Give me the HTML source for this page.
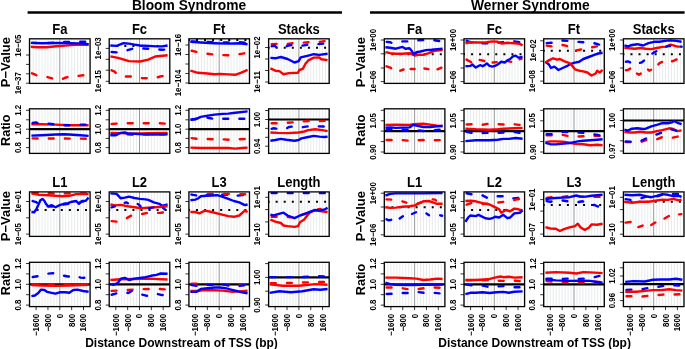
<!DOCTYPE html><html><head><meta charset="utf-8"><style>html,body{margin:0;padding:0;background:#fff;overflow:hidden}svg{display:block;will-change:transform}text{font-family:"Liberation Sans",sans-serif}</style></head><body><svg width="685" height="349" viewBox="0 0 685 349" font-family="Liberation Sans, sans-serif">
<rect width="685" height="349" fill="#fff"/>
<text transform="translate(189.0 9.6) scale(1 1.08)" x="0" y="0" font-size="13.8" font-weight="bold" text-anchor="middle">Bloom Syndrome</text>
<text transform="translate(530.3 9.6) scale(1 1.08)" x="0" y="0" font-size="13.8" font-weight="bold" text-anchor="middle">Werner Syndrome</text>
<line x1="27.6" y1="12.5" x2="342.0" y2="12.5" stroke="#000" stroke-width="2.4"/>
<line x1="370.0" y1="12.5" x2="684.6" y2="12.5" stroke="#000" stroke-width="2.4"/>
<text x="9.90" y="62.10" font-size="13" font-weight="bold" text-anchor="middle" fill="#000" transform="rotate(-90 9.90 62.10)">P−Value</text>
<text x="9.90" y="130.20" font-size="12.6" font-weight="bold" text-anchor="middle" fill="#000" transform="rotate(-90 9.90 130.20)">Ratio</text>
<text x="9.90" y="216.15" font-size="13" font-weight="bold" text-anchor="middle" fill="#000" transform="rotate(-90 9.90 216.15)">P−Value</text>
<text x="9.90" y="279.45" font-size="12.6" font-weight="bold" text-anchor="middle" fill="#000" transform="rotate(-90 9.90 279.45)">Ratio</text>
<text x="365.30" y="62.10" font-size="13" font-weight="bold" text-anchor="middle" fill="#000" transform="rotate(-90 365.30 62.10)">P−Value</text>
<text x="365.30" y="130.20" font-size="12.6" font-weight="bold" text-anchor="middle" fill="#000" transform="rotate(-90 365.30 130.20)">Ratio</text>
<text x="365.30" y="216.15" font-size="13" font-weight="bold" text-anchor="middle" fill="#000" transform="rotate(-90 365.30 216.15)">P−Value</text>
<text x="365.30" y="279.45" font-size="12.6" font-weight="bold" text-anchor="middle" fill="#000" transform="rotate(-90 365.30 279.45)">Ratio</text>
<text x="181.50" y="346.50" font-size="12" font-weight="bold" text-anchor="middle" fill="#000">Distance Downstream of TSS (bp)</text>
<text x="534.60" y="346.50" font-size="12" font-weight="bold" text-anchor="middle" fill="#000">Distance Downstream of TSS (bp)</text>
<clipPath id="clip_BFa"><rect x="29.5" y="38.8" width="60.6" height="44.60000000000001"/></clipPath>
<path d="M30.18 38.8V83.4M33.14 38.8V83.4M36.10 38.8V83.4M39.07 38.8V83.4M42.03 38.8V83.4M44.99 38.8V83.4M47.95 38.8V83.4M50.91 38.8V83.4M53.88 38.8V83.4M56.84 38.8V83.4M62.76 38.8V83.4M65.72 38.8V83.4M68.69 38.8V83.4M71.65 38.8V83.4M74.61 38.8V83.4M77.57 38.8V83.4M80.53 38.8V83.4M83.50 38.8V83.4M86.46 38.8V83.4M89.42 38.8V83.4" stroke="#e6e9ea" stroke-width="0.9" fill="none"/>
<line x1="59.80" y1="38.8" x2="59.80" y2="83.4" stroke="#8c8c8c" stroke-width="0.9"/>
<g clip-path="url(#clip_BFa)" fill="none" stroke-width="2.4" stroke-linejoin="round">
<path d="M30.8 46.8 L37.3 47.3 L46.7 47.3 L56.0 46.3 L65.4 45.6 L74.7 44.9 L84.1 44.9 L88.7 44.9" stroke="#ff0000"/>
<path d="M30.8 42.8 L42.0 43.1 L51.4 42.9 L62.6 41.9 L69.1 41.9 L78.5 41.7 L85.9 41.7 L88.7 42.4" stroke="#0000ff" stroke-dasharray="4.9 11.16" stroke-dashoffset="-1.3" stroke-linecap="round"/>
<path d="M30.8 42.9 L42.0 43.2 L56.0 43.0 L60.7 43.0 L70.1 43.2 L79.4 43.4 L88.7 44.1" stroke="#0000ff"/>
<path d="M30.8 72.8 L34.2 74.2 L37.6 75.8 L45.9 76.6 L52.8 78.6 L56.9 79.9 L61.0 79.7 L64.5 78.0 L67.9 76.9 L76.2 76.2 L83.1 75.3 L88.6 75.0" stroke="#ff0000" stroke-dasharray="4.9 11.16" stroke-dashoffset="-1.3" stroke-linecap="round"/>
</g>
<rect x="29.5" y="38.8" width="60.6" height="44.60" fill="none" stroke="#000" stroke-width="1.3"/>
<path d="M26.00 55H29.5M26.00 64.4H29.5M26.00 73.8H29.5M26.00 83.2H29.5" stroke="#000" stroke-width="0.8"/>
<text x="21.30" y="45.60" dy="0" font-size="8.8" font-weight="bold" text-anchor="middle" textLength="22.19" lengthAdjust="spacingAndGlyphs" transform="rotate(-90 21.30 45.60)">1e−05</text>
<text x="21.30" y="83.20" dy="0" font-size="8.8" font-weight="bold" text-anchor="middle" textLength="22.19" lengthAdjust="spacingAndGlyphs" transform="rotate(-90 21.30 83.20)">1e−37</text>
<text transform="translate(59.80 33.7) scale(1 1.08)" font-size="13" font-weight="bold" text-anchor="middle">Fa</text>
<clipPath id="clip_BFc"><rect x="109.2" y="38.8" width="60.6" height="44.60000000000001"/></clipPath>
<path d="M109.88 38.8V83.4M112.84 38.8V83.4M115.80 38.8V83.4M118.77 38.8V83.4M121.73 38.8V83.4M124.69 38.8V83.4M127.65 38.8V83.4M130.61 38.8V83.4M133.58 38.8V83.4M136.54 38.8V83.4M142.46 38.8V83.4M145.42 38.8V83.4M148.39 38.8V83.4M151.35 38.8V83.4M154.31 38.8V83.4M157.27 38.8V83.4M160.23 38.8V83.4M163.20 38.8V83.4M166.16 38.8V83.4M169.12 38.8V83.4" stroke="#e6e9ea" stroke-width="0.9" fill="none"/>
<line x1="139.50" y1="38.8" x2="139.50" y2="83.4" stroke="#8c8c8c" stroke-width="0.9"/>
<g clip-path="url(#clip_BFc)" fill="none" stroke-width="2.4" stroke-linejoin="round">
<path d="M109.2 45.9 L169.8 45.9" stroke="#000" stroke-dasharray="2 6.07" stroke-dashoffset="1" stroke-width="2"/>
<path d="M110.4 45.5 L116.6 45.9 L123.5 43.2 L129.0 43.6 L134.5 44.6 L140.0 45.5 L148.3 45.9 L156.5 46.4 L162.1 46.4 L167.6 45.5" stroke="#0000ff"/>
<path d="M110.4 51.9 L117.3 52.4 L124.9 51.0 L132.5 48.7 L141.4 48.4 L148.3 48.7 L156.5 49.1 L162.1 49.8 L167.6 49.4" stroke="#0000ff" stroke-dasharray="4.9 11.16" stroke-dashoffset="-1.3" stroke-linecap="round"/>
<path d="M110.4 56.3 L118.0 57.9 L129.0 61.1 L140.0 61.5 L148.3 59.7 L155.2 56.5 L167.6 55.3" stroke="#ff0000"/>
<path d="M110.4 69.8 L114.6 71.7 L117.3 74.4 L124.2 76.5 L131.8 76.5 L140.0 78.0 L146.9 78.3 L155.2 78.0 L161.4 76.2 L167.6 75.5" stroke="#ff0000" stroke-dasharray="4.9 11.16" stroke-dashoffset="-1.3" stroke-linecap="round"/>
</g>
<rect x="109.2" y="38.8" width="60.6" height="44.60" fill="none" stroke="#000" stroke-width="1.3"/>
<path d="M105.70 48.4H109.2M105.70 59.3H109.2M105.70 70.2H109.2M105.70 81.3H109.2" stroke="#000" stroke-width="0.8"/>
<text x="101.00" y="48.40" dy="0" font-size="8.8" font-weight="bold" text-anchor="middle" textLength="22.19" lengthAdjust="spacingAndGlyphs" transform="rotate(-90 101.00 48.40)">1e−03</text>
<text x="101.00" y="81.30" dy="0" font-size="8.8" font-weight="bold" text-anchor="middle" textLength="22.19" lengthAdjust="spacingAndGlyphs" transform="rotate(-90 101.00 81.30)">1e−15</text>
<text transform="translate(139.50 33.7) scale(1 1.08)" font-size="13" font-weight="bold" text-anchor="middle">Fc</text>
<clipPath id="clip_BFt"><rect x="188.9" y="38.8" width="60.6" height="44.60000000000001"/></clipPath>
<path d="M189.58 38.8V83.4M192.54 38.8V83.4M195.50 38.8V83.4M198.47 38.8V83.4M201.43 38.8V83.4M204.39 38.8V83.4M207.35 38.8V83.4M210.31 38.8V83.4M213.28 38.8V83.4M216.24 38.8V83.4M222.16 38.8V83.4M225.12 38.8V83.4M228.09 38.8V83.4M231.05 38.8V83.4M234.01 38.8V83.4M236.97 38.8V83.4M239.93 38.8V83.4M242.90 38.8V83.4M245.86 38.8V83.4M248.82 38.8V83.4" stroke="#e6e9ea" stroke-width="0.9" fill="none"/>
<line x1="219.20" y1="38.8" x2="219.20" y2="83.4" stroke="#8c8c8c" stroke-width="0.9"/>
<g clip-path="url(#clip_BFt)" fill="none" stroke-width="2.4" stroke-linejoin="round">
<path d="M188.9 40.0 L249.5 40.0" stroke="#000" stroke-dasharray="2 6.07" stroke-dashoffset="1" stroke-width="2"/>
<path d="M190.4 41.4 L200.8 41.7 L214.5 42.2 L228.3 42.5 L239.3 42.2 L247.6 43.1" stroke="#0000ff" stroke-dasharray="4.9 11.16" stroke-dashoffset="-1.3" stroke-linecap="round"/>
<path d="M190.4 41.8 L200.8 42.5 L214.5 43.2 L228.3 43.6 L239.3 43.2 L247.6 44.2" stroke="#0000ff"/>
<path d="M190.4 50.5 L197.3 52.1 L202.1 53.0 L213.1 54.5 L218.7 55.0 L229.0 55.3 L233.8 54.9 L238.6 54.2 L247.6 52.8" stroke="#ff0000" stroke-dasharray="4.9 11.16" stroke-dashoffset="-1.3" stroke-linecap="round"/>
<path d="M190.4 70.7 L198.0 72.8 L207.6 73.5 L214.5 74.2 L220.0 73.9 L228.3 74.4 L235.2 74.8 L240.7 72.8 L247.6 69.8" stroke="#ff0000"/>
</g>
<rect x="188.9" y="38.8" width="60.6" height="44.60" fill="none" stroke="#000" stroke-width="1.3"/>
<path d="M185.40 45H188.9M185.40 54.5H188.9M185.40 64H188.9M185.40 73.5H188.9M185.40 83H188.9" stroke="#000" stroke-width="0.8"/>
<text x="180.70" y="45.00" dy="0" font-size="8.8" font-weight="bold" text-anchor="middle" textLength="22.19" lengthAdjust="spacingAndGlyphs" transform="rotate(-90 180.70 45.00)">1e−16</text>
<text x="180.70" y="83.00" dy="0" font-size="8.8" font-weight="bold" text-anchor="middle" textLength="26.58" lengthAdjust="spacingAndGlyphs" transform="rotate(-90 180.70 83.00)">1e−104</text>
<text transform="translate(219.20 33.7) scale(1 1.08)" font-size="13" font-weight="bold" text-anchor="middle">Ft</text>
<clipPath id="clip_BSt"><rect x="268.6" y="38.8" width="60.6" height="44.60000000000001"/></clipPath>
<path d="M269.28 38.8V83.4M272.24 38.8V83.4M275.20 38.8V83.4M278.17 38.8V83.4M281.13 38.8V83.4M284.09 38.8V83.4M287.05 38.8V83.4M290.01 38.8V83.4M292.98 38.8V83.4M295.94 38.8V83.4M301.86 38.8V83.4M304.82 38.8V83.4M307.79 38.8V83.4M310.75 38.8V83.4M313.71 38.8V83.4M316.67 38.8V83.4M319.63 38.8V83.4M322.60 38.8V83.4M325.56 38.8V83.4M328.52 38.8V83.4" stroke="#e6e9ea" stroke-width="0.9" fill="none"/>
<line x1="298.90" y1="38.8" x2="298.90" y2="83.4" stroke="#8c8c8c" stroke-width="0.9"/>
<g clip-path="url(#clip_BSt)" fill="none" stroke-width="2.4" stroke-linejoin="round">
<path d="M268.6 47.7 L329.2 47.7" stroke="#000" stroke-dasharray="2 6.07" stroke-dashoffset="1" stroke-width="2"/>
<path d="M270.4 44.2 L276.6 43.9 L283.5 44.6 L292.5 43.2 L301.4 42.8 L308.3 42.2 L317.2 42.2 L324.8 41.1 L327.6 40.9" stroke="#ff0000" stroke-dasharray="4.9 11.16" stroke-dashoffset="-1.3" stroke-linecap="round"/>
<path d="M270.4 46.4 L274.6 45.7 L277.3 47.7 L284.2 47.7 L287.6 45.7 L292.5 45.0 L300.7 45.9 L308.3 44.6 L316.5 44.3 L323.4 43.6 L327.6 43.2" stroke="#0000ff" stroke-dasharray="4.9 11.16" stroke-dashoffset="-1.3" stroke-linecap="round"/>
<path d="M270.4 57.9 L275.3 58.3 L280.8 57.0 L287.6 59.0 L294.5 62.5 L298.7 61.1 L300.7 57.4 L308.3 55.6 L313.8 54.2 L319.3 54.9 L327.6 53.8" stroke="#0000ff"/>
<path d="M270.4 68.4 L275.3 70.7 L279.4 71.1 L283.5 74.2 L289.0 73.1 L298.0 72.8 L299.3 70.0 L302.8 68.9 L305.5 63.8 L308.3 60.4 L313.8 57.6 L319.3 57.4 L321.4 59.3 L327.6 60.1" stroke="#ff0000"/>
</g>
<rect x="268.6" y="38.8" width="60.6" height="44.60" fill="none" stroke="#000" stroke-width="1.3"/>
<path d="M265.10 47.5H268.6M265.10 59H268.6M265.10 70.5H268.6M265.10 82H268.6" stroke="#000" stroke-width="0.8"/>
<text x="260.40" y="47.50" dy="0" font-size="8.8" font-weight="bold" text-anchor="middle" textLength="22.19" lengthAdjust="spacingAndGlyphs" transform="rotate(-90 260.40 47.50)">1e−02</text>
<text x="260.40" y="82.00" dy="0" font-size="8.8" font-weight="bold" text-anchor="middle" textLength="21.60" lengthAdjust="spacingAndGlyphs" transform="rotate(-90 260.40 82.00)">1e−11</text>
<text transform="translate(298.90 33.7) scale(1 1.08)" font-size="13" font-weight="bold" text-anchor="middle">Stacks</text>
<clipPath id="clip_WFa"><rect x="384.3" y="38.8" width="60.6" height="44.60000000000001"/></clipPath>
<path d="M384.98 38.8V83.4M387.94 38.8V83.4M390.90 38.8V83.4M393.87 38.8V83.4M396.83 38.8V83.4M399.79 38.8V83.4M402.75 38.8V83.4M405.71 38.8V83.4M408.68 38.8V83.4M411.64 38.8V83.4M417.56 38.8V83.4M420.52 38.8V83.4M423.49 38.8V83.4M426.45 38.8V83.4M429.41 38.8V83.4M432.37 38.8V83.4M435.33 38.8V83.4M438.30 38.8V83.4M441.26 38.8V83.4M444.22 38.8V83.4" stroke="#e6e9ea" stroke-width="0.9" fill="none"/>
<line x1="414.60" y1="38.8" x2="414.60" y2="83.4" stroke="#8c8c8c" stroke-width="0.9"/>
<g clip-path="url(#clip_WFa)" fill="none" stroke-width="2.4" stroke-linejoin="round">
<path d="M384.3 54.2 L444.9 54.2" stroke="#000" stroke-dasharray="2 6.07" stroke-dashoffset="1" stroke-width="2"/>
<path d="M385.4 41.8 L390.3 42.2 L392.3 43.2 L397.1 42.2 L401.3 41.4 L408.1 41.4 L417.1 40.4 L423.3 40.0 L432.9 40.0 L439.8 41.1 L442.6 41.4" stroke="#0000ff" stroke-dasharray="4.9 11.16" stroke-dashoffset="-1.3" stroke-linecap="round"/>
<path d="M385.4 52.1 L390.3 53.2 L395.8 53.8 L402.6 53.8 L409.5 53.2 L411.6 54.2 L415.0 55.6 L419.2 54.6 L423.3 54.9 L428.8 53.2 L434.3 50.8 L442.6 50.1" stroke="#ff0000"/>
<path d="M385.4 47.3 L390.3 47.7 L395.8 48.7 L402.6 46.9 L405.4 48.7 L409.5 48.3 L411.6 50.8 L413.7 54.2 L416.4 52.1 L420.5 51.5 L426.0 50.1 L431.5 49.7 L437.1 49.1 L442.6 48.7" stroke="#0000ff"/>
<path d="M386.54 66.31 L390.95 67.97 L391.22 68.15" stroke="#ff0000" stroke-linecap="round"/>
<path d="M400.30 70.72 L403.61 69.50" stroke="#ff0000" stroke-linecap="round"/>
<path d="M410.63 68.93 L414.62 68.93" stroke="#ff0000" stroke-linecap="round"/>
<path d="M424.39 68.55 L428.38 69.17" stroke="#ff0000" stroke-linecap="round"/>
<path d="M437.46 69.32 L441.46 67.72" stroke="#ff0000" stroke-linecap="round"/>
</g>
<rect x="384.3" y="38.8" width="60.6" height="44.60" fill="none" stroke="#000" stroke-width="1.3"/>
<path d="M380.80 40.0H384.3M380.80 53.8H384.3M380.80 68.0H384.3M380.80 81.6H384.3" stroke="#000" stroke-width="0.8"/>
<text x="376.10" y="40.00" dy="0" font-size="8.8" font-weight="bold" text-anchor="middle" textLength="22.19" lengthAdjust="spacingAndGlyphs" transform="rotate(-90 376.10 40.00)">1e+00</text>
<text x="376.10" y="81.60" dy="0" font-size="8.8" font-weight="bold" text-anchor="middle" textLength="22.19" lengthAdjust="spacingAndGlyphs" transform="rotate(-90 376.10 81.60)">1e−06</text>
<text transform="translate(414.60 33.7) scale(1 1.08)" font-size="13" font-weight="bold" text-anchor="middle">Fa</text>
<clipPath id="clip_WFc"><rect x="464.0" y="38.8" width="60.6" height="44.60000000000001"/></clipPath>
<path d="M464.68 38.8V83.4M467.64 38.8V83.4M470.60 38.8V83.4M473.57 38.8V83.4M476.53 38.8V83.4M479.49 38.8V83.4M482.45 38.8V83.4M485.41 38.8V83.4M488.38 38.8V83.4M491.34 38.8V83.4M497.26 38.8V83.4M500.22 38.8V83.4M503.19 38.8V83.4M506.15 38.8V83.4M509.11 38.8V83.4M512.07 38.8V83.4M515.03 38.8V83.4M518.00 38.8V83.4M520.96 38.8V83.4M523.92 38.8V83.4" stroke="#e6e9ea" stroke-width="0.9" fill="none"/>
<line x1="494.30" y1="38.8" x2="494.30" y2="83.4" stroke="#8c8c8c" stroke-width="0.9"/>
<g clip-path="url(#clip_WFc)" fill="none" stroke-width="2.4" stroke-linejoin="round">
<path d="M464.0 54.2 L524.6 54.2" stroke="#000" stroke-dasharray="2 6.07" stroke-dashoffset="1" stroke-width="2"/>
<path d="M465.4 40.4 L471.6 42.5 L481.3 43.2 L488.1 43.2 L493.7 42.5 L497.1 42.8 L503.3 42.2 L512.9 41.1 L519.8 42.2 L522.6 42.2" stroke="#0000ff" stroke-dasharray="4.9 11.16" stroke-dashoffset="-1.3" stroke-linecap="round"/>
<path d="M465.4 43.2 L470.3 42.2 L478.5 42.5 L486.8 42.2 L492.3 41.4 L497.8 41.8 L501.9 43.6 L507.4 42.8 L514.3 43.2 L519.8 43.9 L522.6 45.5" stroke="#ff0000"/>
<path d="M466.54 59.63 L471.22 62.23" stroke="#ff0000" stroke-linecap="round"/>
<path d="M479.62 59.95 L484.30 60.99" stroke="#ff0000" stroke-linecap="round"/>
<path d="M492.69 62.52 L496.68 62.15" stroke="#ff0000" stroke-linecap="round"/>
<path d="M507.14 60.92 L511.13 61.80" stroke="#ff0000" stroke-linecap="round"/>
<path d="M519.53 59.22 L521.46 58.92" stroke="#ff0000" stroke-linecap="round"/>
<path d="M465.4 66.2 L470.3 65.9 L472.3 64.5 L475.8 67.6 L478.5 65.9 L480.6 65.2 L482.6 66.2 L484.7 65.2 L486.8 63.4 L489.5 65.9 L492.3 66.6 L495.0 65.9 L497.8 64.5 L501.2 61.8 L504.7 62.5 L507.4 60.4 L510.2 59.0 L512.9 56.3 L515.7 55.6 L518.4 57.6 L522.6 57.0" stroke="#0000ff"/>
</g>
<rect x="464.0" y="38.8" width="60.6" height="44.60" fill="none" stroke="#000" stroke-width="1.3"/>
<path d="M460.50 40.0H464.0M460.50 53.8H464.0M460.50 68.0H464.0M460.50 81.6H464.0" stroke="#000" stroke-width="0.8"/>
<text x="455.80" y="40.00" dy="0" font-size="8.8" font-weight="bold" text-anchor="middle" textLength="22.19" lengthAdjust="spacingAndGlyphs" transform="rotate(-90 455.80 40.00)">1e+00</text>
<text x="455.80" y="81.60" dy="0" font-size="8.8" font-weight="bold" text-anchor="middle" textLength="22.19" lengthAdjust="spacingAndGlyphs" transform="rotate(-90 455.80 81.60)">1e−06</text>
<text transform="translate(494.30 33.7) scale(1 1.08)" font-size="13" font-weight="bold" text-anchor="middle">Fc</text>
<clipPath id="clip_WFt"><rect x="543.7" y="38.8" width="60.6" height="44.60000000000001"/></clipPath>
<path d="M544.38 38.8V83.4M547.34 38.8V83.4M550.30 38.8V83.4M553.27 38.8V83.4M556.23 38.8V83.4M559.19 38.8V83.4M562.15 38.8V83.4M565.11 38.8V83.4M568.08 38.8V83.4M571.04 38.8V83.4M576.96 38.8V83.4M579.92 38.8V83.4M582.89 38.8V83.4M585.85 38.8V83.4M588.81 38.8V83.4M591.77 38.8V83.4M594.73 38.8V83.4M597.70 38.8V83.4M600.66 38.8V83.4M603.62 38.8V83.4" stroke="#e6e9ea" stroke-width="0.9" fill="none"/>
<line x1="574.00" y1="38.8" x2="574.00" y2="83.4" stroke="#8c8c8c" stroke-width="0.9"/>
<g clip-path="url(#clip_WFt)" fill="none" stroke-width="2.4" stroke-linejoin="round">
<path d="M543.7 50.8 L604.3 50.8" stroke="#000" stroke-dasharray="2 6.07" stroke-dashoffset="1" stroke-width="2"/>
<path d="M545.4 43.2 L551.6 42.8 L561.3 40.4 L567.5 40.9 L577.1 41.8 L583.3 42.2 L592.9 42.8 L599.1 44.6 L602.6 45.3" stroke="#0000ff" stroke-dasharray="4.9 11.16" stroke-dashoffset="-1.3" stroke-linecap="round"/>
<path d="M545.4 45.5 L551.6 46.4 L560.6 44.6 L566.8 45.9 L571.6 50.8 L574.3 50.8 L579.8 49.7 L589.5 47.7 L595.7 46.6 L602.6 45.3" stroke="#ff0000" stroke-dasharray="4.9 11.16" stroke-dashoffset="-1.3" stroke-linecap="round"/>
<path d="M545.4 61.8 L548.9 64.5 L550.9 68.0 L554.4 66.6 L558.5 70.0 L562.6 68.0 L566.8 66.2 L569.5 64.5 L573.7 62.9 L579.2 61.8 L583.3 59.0 L588.8 57.0 L594.3 54.9 L598.4 53.5 L602.6 52.8" stroke="#0000ff"/>
<path d="M545.4 62.5 L548.9 60.4 L553.0 58.3 L557.1 59.7 L559.9 59.0 L564.0 61.1 L569.5 63.1 L572.3 65.9 L575.0 69.3 L579.2 70.7 L583.3 71.4 L587.4 72.5 L591.5 75.5 L595.7 73.5 L597.1 70.7 L599.8 72.5 L602.6 69.8" stroke="#ff0000"/>
</g>
<rect x="543.7" y="38.8" width="60.6" height="44.60" fill="none" stroke="#000" stroke-width="1.3"/>
<path d="M540.20 40.8H543.7M540.20 50.5H543.7M540.20 61.2H543.7M540.20 71.3H543.7M540.20 81.1H543.7" stroke="#000" stroke-width="0.8"/>
<text x="535.50" y="50.50" dy="0" font-size="8.8" font-weight="bold" text-anchor="middle" textLength="22.19" lengthAdjust="spacingAndGlyphs" transform="rotate(-90 535.50 50.50)">1e−02</text>
<text x="535.50" y="81.10" dy="0" font-size="8.8" font-weight="bold" text-anchor="middle" textLength="22.19" lengthAdjust="spacingAndGlyphs" transform="rotate(-90 535.50 81.10)">1e−08</text>
<text transform="translate(574.00 33.7) scale(1 1.08)" font-size="13" font-weight="bold" text-anchor="middle">Ft</text>
<clipPath id="clip_WSt"><rect x="623.4" y="38.8" width="60.6" height="44.60000000000001"/></clipPath>
<path d="M624.08 38.8V83.4M627.04 38.8V83.4M630.00 38.8V83.4M632.97 38.8V83.4M635.93 38.8V83.4M638.89 38.8V83.4M641.85 38.8V83.4M644.81 38.8V83.4M647.78 38.8V83.4M650.74 38.8V83.4M656.66 38.8V83.4M659.62 38.8V83.4M662.59 38.8V83.4M665.55 38.8V83.4M668.51 38.8V83.4M671.47 38.8V83.4M674.43 38.8V83.4M677.40 38.8V83.4M680.36 38.8V83.4M683.32 38.8V83.4" stroke="#e6e9ea" stroke-width="0.9" fill="none"/>
<line x1="653.70" y1="38.8" x2="653.70" y2="83.4" stroke="#8c8c8c" stroke-width="0.9"/>
<g clip-path="url(#clip_WSt)" fill="none" stroke-width="2.4" stroke-linejoin="round">
<path d="M623.4 54.2 L684.0 54.2" stroke="#000" stroke-dasharray="2 6.07" stroke-dashoffset="1" stroke-width="2"/>
<path d="M624.4 47.7 L629.3 48.3 L634.8 48.7 L640.3 48.0 L645.8 48.7 L651.3 49.1 L656.8 48.0 L662.3 46.9 L666.4 46.6 L670.5 44.6 L673.3 45.3 L677.4 46.6 L681.6 46.6" stroke="#ff0000"/>
<path d="M624.4 45.3 L627.9 46.4 L632.0 45.0 L637.5 44.2 L643.0 45.5 L648.5 43.2 L654.0 41.8 L659.5 41.8 L665.0 40.9 L670.5 40.4 L676.1 40.9 L681.6 41.8" stroke="#0000ff"/>
<path d="M625.95 61.75 L627.88 61.36 L630.22 62.39" stroke="#0000ff" stroke-linecap="round"/>
<path d="M639.99 62.87 L641.64 62.46 L643.98 60.59" stroke="#0000ff" stroke-linecap="round"/>
<path d="M652.38 53.49 L654.03 52.41 L656.37 51.29" stroke="#0000ff" stroke-linecap="round"/>
<path d="M666.14 46.60 L668.48 45.95 L670.13 45.95" stroke="#0000ff" stroke-linecap="round"/>
<path d="M681.28 46.63 L681.58 46.63" stroke="#0000ff" stroke-linecap="round"/>
<path d="M625.95 70.18 L627.88 70.03 L630.22 68.63" stroke="#ff0000" stroke-linecap="round"/>
<path d="M636.96 73.59 L638.89 74.85 L640.82 73.59" stroke="#ff0000" stroke-linecap="round"/>
<path d="M647.97 69.48 L649.21 70.72 L651.14 69.75" stroke="#ff0000" stroke-linecap="round"/>
<path d="M658.30 64.39 L659.54 63.15 L662.15 61.89" stroke="#ff0000" stroke-linecap="round"/>
<path d="M672.06 61.25 L673.99 60.67 L676.60 59.42" stroke="#ff0000" stroke-linecap="round"/>
</g>
<rect x="623.4" y="38.8" width="60.6" height="44.60" fill="none" stroke="#000" stroke-width="1.3"/>
<path d="M619.90 40.0H623.4M619.90 53.8H623.4M619.90 68.0H623.4M619.90 81.6H623.4" stroke="#000" stroke-width="0.8"/>
<text x="615.20" y="40.00" dy="0" font-size="8.8" font-weight="bold" text-anchor="middle" textLength="22.19" lengthAdjust="spacingAndGlyphs" transform="rotate(-90 615.20 40.00)">1e+00</text>
<text x="615.20" y="81.60" dy="0" font-size="8.8" font-weight="bold" text-anchor="middle" textLength="22.19" lengthAdjust="spacingAndGlyphs" transform="rotate(-90 615.20 81.60)">1e−06</text>
<text transform="translate(653.70 33.7) scale(1 1.08)" font-size="13" font-weight="bold" text-anchor="middle">Stacks</text>
<clipPath id="clip_BFaR"><rect x="29.5" y="108.8" width="60.6" height="44.60000000000001"/></clipPath>
<path d="M30.18 108.8V153.4M33.14 108.8V153.4M36.10 108.8V153.4M39.07 108.8V153.4M42.03 108.8V153.4M44.99 108.8V153.4M47.95 108.8V153.4M50.91 108.8V153.4M53.88 108.8V153.4M56.84 108.8V153.4M62.76 108.8V153.4M65.72 108.8V153.4M68.69 108.8V153.4M71.65 108.8V153.4M74.61 108.8V153.4M77.57 108.8V153.4M80.53 108.8V153.4M83.50 108.8V153.4M86.46 108.8V153.4M89.42 108.8V153.4" stroke="#e6e9ea" stroke-width="0.9" fill="none"/>
<line x1="59.80" y1="108.8" x2="59.80" y2="153.4" stroke="#8c8c8c" stroke-width="0.9"/>
<line x1="29.5" y1="129.2" x2="90.1" y2="129.2" stroke="#000" stroke-width="2.2"/>
<g clip-path="url(#clip_BFaR)" fill="none" stroke-width="2.4" stroke-linejoin="round">
<path d="M31.4 124.2 L41.8 124.2 L55.5 124.6 L69.3 125.2 L88.6 125.3" stroke="#ff0000"/>
<path d="M31.4 123.2 L35.6 122.4 L38.3 123.2 L47.3 123.5 L53.5 124.2 L63.1 125.2 L69.3 125.2 L78.9 124.6 L85.1 124.6 L88.6 124.9" stroke="#0000ff" stroke-dasharray="4.9 11.16" stroke-dashoffset="-1.3" stroke-linecap="round"/>
<path d="M31.4 135.6 L41.8 135.2 L55.5 134.5 L63.8 134.3 L69.3 134.5 L80.3 135.2 L88.6 135.9" stroke="#0000ff"/>
<path d="M31.4 138.4 L55.5 138.5 L88.6 138.7" stroke="#ff0000" stroke-dasharray="4.9 11.16" stroke-dashoffset="-1.3" stroke-linecap="round"/>
</g>
<rect x="29.5" y="108.8" width="60.6" height="44.60" fill="none" stroke="#000" stroke-width="1.3"/>
<path d="M26.00 110.3H29.5M26.00 119.8H29.5M26.00 129.2H29.5M26.00 138.4H29.5M26.00 147.6H29.5" stroke="#000" stroke-width="0.8"/>
<text x="21.30" y="110.30" dy="0" font-size="8.8" font-weight="bold" text-anchor="middle" textLength="10.98" lengthAdjust="spacingAndGlyphs" transform="rotate(-90 21.30 110.30)">1.2</text>
<text x="21.30" y="129.20" dy="0" font-size="8.8" font-weight="bold" text-anchor="middle" textLength="10.98" lengthAdjust="spacingAndGlyphs" transform="rotate(-90 21.30 129.20)">1.0</text>
<text x="21.30" y="147.60" dy="0" font-size="8.8" font-weight="bold" text-anchor="middle" textLength="10.98" lengthAdjust="spacingAndGlyphs" transform="rotate(-90 21.30 147.60)">0.8</text>
<clipPath id="clip_BFcR"><rect x="109.2" y="108.8" width="60.6" height="44.60000000000001"/></clipPath>
<path d="M109.88 108.8V153.4M112.84 108.8V153.4M115.80 108.8V153.4M118.77 108.8V153.4M121.73 108.8V153.4M124.69 108.8V153.4M127.65 108.8V153.4M130.61 108.8V153.4M133.58 108.8V153.4M136.54 108.8V153.4M142.46 108.8V153.4M145.42 108.8V153.4M148.39 108.8V153.4M151.35 108.8V153.4M154.31 108.8V153.4M157.27 108.8V153.4M160.23 108.8V153.4M163.20 108.8V153.4M166.16 108.8V153.4M169.12 108.8V153.4" stroke="#e6e9ea" stroke-width="0.9" fill="none"/>
<line x1="139.50" y1="108.8" x2="139.50" y2="153.4" stroke="#8c8c8c" stroke-width="0.9"/>
<line x1="109.2" y1="129.2" x2="169.8" y2="129.2" stroke="#000" stroke-width="2.2"/>
<g clip-path="url(#clip_BFcR)" fill="none" stroke-width="2.4" stroke-linejoin="round">
<path d="M110.4 124.2 L117.3 123.5 L127.0 123.2 L134.5 123.2 L142.8 123.2 L150.4 123.2 L158.6 123.2 L167.6 123.8" stroke="#ff0000" stroke-dasharray="4.9 11.16" stroke-dashoffset="-1.3" stroke-linecap="round"/>
<path d="M110.4 132.9 L120.8 133.1 L134.5 133.8 L148.3 133.1 L167.6 132.9" stroke="#ff0000"/>
<path d="M110.4 134.5 L117.3 135.2 L127.0 134.3 L134.5 134.5 L142.8 134.3 L167.6 134.3" stroke="#0000ff" stroke-dasharray="4.9 11.16" stroke-dashoffset="-1.3" stroke-linecap="round"/>
<path d="M110.4 135.2 L115.3 135.2 L120.8 132.9 L124.9 132.5 L129.0 133.8 L134.5 133.8 L142.8 134.3 L152.4 134.5 L167.6 134.3" stroke="#0000ff"/>
</g>
<rect x="109.2" y="108.8" width="60.6" height="44.60" fill="none" stroke="#000" stroke-width="1.3"/>
<path d="M105.70 110.3H109.2M105.70 119.8H109.2M105.70 129.2H109.2M105.70 138.4H109.2M105.70 147.6H109.2" stroke="#000" stroke-width="0.8"/>
<text x="101.00" y="110.30" dy="0" font-size="8.8" font-weight="bold" text-anchor="middle" textLength="10.98" lengthAdjust="spacingAndGlyphs" transform="rotate(-90 101.00 110.30)">1.2</text>
<text x="101.00" y="129.20" dy="0" font-size="8.8" font-weight="bold" text-anchor="middle" textLength="10.98" lengthAdjust="spacingAndGlyphs" transform="rotate(-90 101.00 129.20)">1.0</text>
<text x="101.00" y="147.60" dy="0" font-size="8.8" font-weight="bold" text-anchor="middle" textLength="10.98" lengthAdjust="spacingAndGlyphs" transform="rotate(-90 101.00 147.60)">0.8</text>
<clipPath id="clip_BFtR"><rect x="188.9" y="108.8" width="60.6" height="44.60000000000001"/></clipPath>
<path d="M189.58 108.8V153.4M192.54 108.8V153.4M195.50 108.8V153.4M198.47 108.8V153.4M201.43 108.8V153.4M204.39 108.8V153.4M207.35 108.8V153.4M210.31 108.8V153.4M213.28 108.8V153.4M216.24 108.8V153.4M222.16 108.8V153.4M225.12 108.8V153.4M228.09 108.8V153.4M231.05 108.8V153.4M234.01 108.8V153.4M236.97 108.8V153.4M239.93 108.8V153.4M242.90 108.8V153.4M245.86 108.8V153.4M248.82 108.8V153.4" stroke="#e6e9ea" stroke-width="0.9" fill="none"/>
<line x1="219.20" y1="108.8" x2="219.20" y2="153.4" stroke="#8c8c8c" stroke-width="0.9"/>
<line x1="188.9" y1="129.2" x2="249.5" y2="129.2" stroke="#000" stroke-width="2.2"/>
<g clip-path="url(#clip_BFtR)" fill="none" stroke-width="2.4" stroke-linejoin="round">
<path d="M190.4 119.7 L197.3 118.7 L204.9 116.9 L209.0 118.0 L213.1 118.8 L222.1 118.7 L228.3 118.7 L238.6 118.7 L247.6 118.7" stroke="#0000ff" stroke-dasharray="4.9 11.16" stroke-dashoffset="-1.3" stroke-linecap="round"/>
<path d="M190.4 119.7 L195.3 119.4 L200.8 116.9 L206.3 115.9 L214.5 114.6 L222.8 113.9 L228.3 113.6 L235.2 112.8 L247.6 111.4" stroke="#0000ff"/>
<path d="M190.4 138.0 L197.3 138.9 L206.3 138.9 L213.8 139.3 L222.8 139.3 L229.7 139.8 L238.6 139.3 L247.6 138.9" stroke="#ff0000" stroke-dasharray="4.9 11.16" stroke-dashoffset="-1.3" stroke-linecap="round"/>
<path d="M190.4 147.6 L200.8 148.0 L214.5 148.0 L228.3 148.0 L235.2 148.6 L242.1 148.0 L247.6 147.6" stroke="#ff0000"/>
</g>
<rect x="188.9" y="108.8" width="60.6" height="44.60" fill="none" stroke="#000" stroke-width="1.3"/>
<path d="M185.40 110.3H188.9M185.40 119.8H188.9M185.40 129.2H188.9M185.40 138.4H188.9M185.40 147.6H188.9" stroke="#000" stroke-width="0.8"/>
<text x="180.70" y="110.30" dy="0" font-size="8.8" font-weight="bold" text-anchor="middle" textLength="10.98" lengthAdjust="spacingAndGlyphs" transform="rotate(-90 180.70 110.30)">1.2</text>
<text x="180.70" y="129.20" dy="0" font-size="8.8" font-weight="bold" text-anchor="middle" textLength="10.98" lengthAdjust="spacingAndGlyphs" transform="rotate(-90 180.70 129.20)">1.0</text>
<text x="180.70" y="147.60" dy="0" font-size="8.8" font-weight="bold" text-anchor="middle" textLength="10.98" lengthAdjust="spacingAndGlyphs" transform="rotate(-90 180.70 147.60)">0.8</text>
<clipPath id="clip_BStR"><rect x="268.6" y="108.8" width="60.6" height="44.60000000000001"/></clipPath>
<path d="M269.28 108.8V153.4M272.24 108.8V153.4M275.20 108.8V153.4M278.17 108.8V153.4M281.13 108.8V153.4M284.09 108.8V153.4M287.05 108.8V153.4M290.01 108.8V153.4M292.98 108.8V153.4M295.94 108.8V153.4M301.86 108.8V153.4M304.82 108.8V153.4M307.79 108.8V153.4M310.75 108.8V153.4M313.71 108.8V153.4M316.67 108.8V153.4M319.63 108.8V153.4M322.60 108.8V153.4M325.56 108.8V153.4M328.52 108.8V153.4" stroke="#e6e9ea" stroke-width="0.9" fill="none"/>
<line x1="298.90" y1="108.8" x2="298.90" y2="153.4" stroke="#8c8c8c" stroke-width="0.9"/>
<line x1="268.6" y1="119.5" x2="329.20000000000005" y2="119.5" stroke="#000" stroke-width="2.2"/>
<g clip-path="url(#clip_BStR)" fill="none" stroke-width="2.4" stroke-linejoin="round">
<path d="M270.4 123.2 L277.3 123.2 L286.3 122.8 L293.1 122.4 L302.1 121.5 L309.0 121.0 L318.6 121.0 L327.6 120.8" stroke="#ff0000" stroke-dasharray="4.9 11.16" stroke-dashoffset="-1.3" stroke-linecap="round"/>
<path d="M270.4 129.3 L273.2 128.3 L276.6 128.7 L282.1 129.7 L285.6 129.0 L289.0 127.0 L292.5 126.5 L301.4 127.4 L308.3 126.3 L317.2 126.3 L323.4 126.5 L327.6 126.3" stroke="#0000ff" stroke-dasharray="4.9 11.16" stroke-dashoffset="-1.3" stroke-linecap="round"/>
<path d="M270.4 132.5 L278.0 132.9 L287.6 133.1 L298.7 132.5 L304.2 131.5 L308.3 130.1 L315.2 129.3 L322.1 130.1 L327.6 131.1" stroke="#ff0000"/>
<path d="M270.4 140.7 L275.3 140.0 L280.8 138.9 L286.3 139.8 L294.5 140.7 L298.7 140.0 L301.4 138.4 L308.3 137.0 L313.8 135.9 L319.3 136.6 L324.8 137.0 L327.6 136.6" stroke="#0000ff"/>
</g>
<rect x="268.6" y="108.8" width="60.6" height="44.60" fill="none" stroke="#000" stroke-width="1.3"/>
<path d="M265.10 110.5H268.6M265.10 119.5H268.6M265.10 128.4H268.6M265.10 137.3H268.6M265.10 146.2H268.6" stroke="#000" stroke-width="0.8"/>
<text x="260.40" y="119.50" dy="0" font-size="8.8" font-weight="bold" text-anchor="middle" textLength="15.37" lengthAdjust="spacingAndGlyphs" transform="rotate(-90 260.40 119.50)">1.00</text>
<text x="260.40" y="146.20" dy="0" font-size="8.8" font-weight="bold" text-anchor="middle" textLength="15.37" lengthAdjust="spacingAndGlyphs" transform="rotate(-90 260.40 146.20)">0.94</text>
<clipPath id="clip_WFaR"><rect x="384.3" y="108.8" width="60.6" height="44.60000000000001"/></clipPath>
<path d="M384.98 108.8V153.4M387.94 108.8V153.4M390.90 108.8V153.4M393.87 108.8V153.4M396.83 108.8V153.4M399.79 108.8V153.4M402.75 108.8V153.4M405.71 108.8V153.4M408.68 108.8V153.4M411.64 108.8V153.4M417.56 108.8V153.4M420.52 108.8V153.4M423.49 108.8V153.4M426.45 108.8V153.4M429.41 108.8V153.4M432.37 108.8V153.4M435.33 108.8V153.4M438.30 108.8V153.4M441.26 108.8V153.4M444.22 108.8V153.4" stroke="#e6e9ea" stroke-width="0.9" fill="none"/>
<line x1="414.60" y1="108.8" x2="414.60" y2="153.4" stroke="#8c8c8c" stroke-width="0.9"/>
<line x1="384.3" y1="131.1" x2="444.90000000000003" y2="131.1" stroke="#000" stroke-width="2.2"/>
<g clip-path="url(#clip_WFaR)" fill="none" stroke-width="2.4" stroke-linejoin="round">
<path d="M385.4 124.9 L395.8 124.6 L409.5 124.9 L413.7 124.2 L423.3 123.8 L430.2 124.6 L437.1 125.6 L442.6 126.0" stroke="#ff0000"/>
<path d="M385.4 127.6 L390.3 127.4 L395.8 127.9 L402.6 127.6 L409.5 127.4 L413.0 124.9 L416.4 125.6 L423.3 127.0 L430.2 127.0 L437.1 126.3 L442.6 126.0" stroke="#0000ff"/>
<path d="M385.4 129.7 L391.6 129.0 L401.3 129.7 L408.1 129.7 L417.1 130.4 L424.0 131.1 L433.6 130.4 L439.8 129.7 L442.6 129.7" stroke="#0000ff" stroke-dasharray="4.9 11.16" stroke-dashoffset="-1.3" stroke-linecap="round"/>
<path d="M385.4 140.0 L392.3 140.0 L402.0 140.0 L408.1 140.7 L417.8 140.3 L424.0 140.0 L433.6 140.3 L442.6 140.0" stroke="#ff0000" stroke-dasharray="4.9 11.16" stroke-dashoffset="-1.3" stroke-linecap="round"/>
</g>
<rect x="384.3" y="108.8" width="60.6" height="44.60" fill="none" stroke="#000" stroke-width="1.3"/>
<path d="M380.80 110.3H384.3M380.80 120.8H384.3M380.80 131.1H384.3M380.80 141.6H384.3M380.80 152.0H384.3" stroke="#000" stroke-width="0.8"/>
<text x="376.10" y="120.80" dy="0" font-size="8.8" font-weight="bold" text-anchor="middle" textLength="15.37" lengthAdjust="spacingAndGlyphs" transform="rotate(-90 376.10 120.80)">1.05</text>
<text x="376.10" y="152.00" dy="0" font-size="8.8" font-weight="bold" text-anchor="middle" textLength="15.37" lengthAdjust="spacingAndGlyphs" transform="rotate(-90 376.10 152.00)">0.90</text>
<clipPath id="clip_WFcR"><rect x="464.0" y="108.8" width="60.6" height="44.60000000000001"/></clipPath>
<path d="M464.68 108.8V153.4M467.64 108.8V153.4M470.60 108.8V153.4M473.57 108.8V153.4M476.53 108.8V153.4M479.49 108.8V153.4M482.45 108.8V153.4M485.41 108.8V153.4M488.38 108.8V153.4M491.34 108.8V153.4M497.26 108.8V153.4M500.22 108.8V153.4M503.19 108.8V153.4M506.15 108.8V153.4M509.11 108.8V153.4M512.07 108.8V153.4M515.03 108.8V153.4M518.00 108.8V153.4M520.96 108.8V153.4M523.92 108.8V153.4" stroke="#e6e9ea" stroke-width="0.9" fill="none"/>
<line x1="494.30" y1="108.8" x2="494.30" y2="153.4" stroke="#8c8c8c" stroke-width="0.9"/>
<line x1="464.0" y1="131.1" x2="524.6" y2="131.1" stroke="#000" stroke-width="2.2"/>
<g clip-path="url(#clip_WFcR)" fill="none" stroke-width="2.4" stroke-linejoin="round">
<path d="M465.4 124.6 L472.3 124.2 L482.0 124.9 L488.1 123.8 L497.8 124.2 L504.0 124.6 L513.6 124.2 L519.8 124.9 L522.6 124.9" stroke="#ff0000" stroke-dasharray="4.9 11.16" stroke-dashoffset="-1.3" stroke-linecap="round"/>
<path d="M465.4 128.7 L475.8 129.3 L489.5 129.7 L497.8 129.3 L503.3 128.7 L514.3 128.3 L522.6 127.9" stroke="#ff0000"/>
<path d="M465.4 131.5 L471.6 132.9 L482.0 133.1 L488.1 132.9 L497.8 132.9 L504.0 132.5 L513.6 132.0 L519.8 132.9 L522.6 132.9" stroke="#0000ff" stroke-dasharray="4.9 11.16" stroke-dashoffset="-1.3" stroke-linecap="round"/>
<path d="M465.4 141.1 L475.8 140.3 L489.5 140.3 L497.8 139.8 L503.3 138.9 L508.8 138.9 L515.7 138.0 L522.6 138.7" stroke="#0000ff"/>
</g>
<rect x="464.0" y="108.8" width="60.6" height="44.60" fill="none" stroke="#000" stroke-width="1.3"/>
<path d="M460.50 110.3H464.0M460.50 120.8H464.0M460.50 131.1H464.0M460.50 141.6H464.0M460.50 152.0H464.0" stroke="#000" stroke-width="0.8"/>
<text x="455.80" y="120.80" dy="0" font-size="8.8" font-weight="bold" text-anchor="middle" textLength="15.37" lengthAdjust="spacingAndGlyphs" transform="rotate(-90 455.80 120.80)">1.05</text>
<text x="455.80" y="152.00" dy="0" font-size="8.8" font-weight="bold" text-anchor="middle" textLength="15.37" lengthAdjust="spacingAndGlyphs" transform="rotate(-90 455.80 152.00)">0.90</text>
<clipPath id="clip_WFtR"><rect x="543.7" y="108.8" width="60.6" height="44.60000000000001"/></clipPath>
<path d="M544.38 108.8V153.4M547.34 108.8V153.4M550.30 108.8V153.4M553.27 108.8V153.4M556.23 108.8V153.4M559.19 108.8V153.4M562.15 108.8V153.4M565.11 108.8V153.4M568.08 108.8V153.4M571.04 108.8V153.4M576.96 108.8V153.4M579.92 108.8V153.4M582.89 108.8V153.4M585.85 108.8V153.4M588.81 108.8V153.4M591.77 108.8V153.4M594.73 108.8V153.4M597.70 108.8V153.4M600.66 108.8V153.4M603.62 108.8V153.4" stroke="#e6e9ea" stroke-width="0.9" fill="none"/>
<line x1="574.00" y1="108.8" x2="574.00" y2="153.4" stroke="#8c8c8c" stroke-width="0.9"/>
<line x1="543.7" y1="131.1" x2="604.3000000000001" y2="131.1" stroke="#000" stroke-width="2.2"/>
<g clip-path="url(#clip_WFtR)" fill="none" stroke-width="2.4" stroke-linejoin="round">
<path d="M545.4 135.2 L551.6 135.2 L561.3 134.5 L567.5 135.9 L577.1 136.6 L583.3 136.2 L592.9 135.9 L599.1 135.9 L602.6 135.9" stroke="#ff0000" stroke-dasharray="4.9 11.16" stroke-dashoffset="-1.3" stroke-linecap="round"/>
<path d="M545.4 134.3 L551.6 134.3 L561.3 131.8 L567.5 132.0 L577.1 132.5 L583.3 132.9 L592.9 134.3 L599.1 135.2 L602.6 135.2" stroke="#0000ff" stroke-dasharray="4.9 11.16" stroke-dashoffset="-1.3" stroke-linecap="round"/>
<path d="M545.4 142.1 L550.3 141.4 L555.8 141.4 L562.6 141.7 L569.5 142.8 L575.0 143.9 L583.3 144.2 L590.2 145.3 L597.1 144.8 L602.6 145.3" stroke="#ff0000"/>
<path d="M545.4 142.8 L550.3 144.2 L555.8 144.4 L561.3 143.9 L569.5 143.1 L577.8 141.4 L583.3 140.7 L590.2 140.3 L597.1 139.8 L602.6 139.3" stroke="#0000ff"/>
</g>
<rect x="543.7" y="108.8" width="60.6" height="44.60" fill="none" stroke="#000" stroke-width="1.3"/>
<path d="M540.20 110.3H543.7M540.20 120.8H543.7M540.20 131.1H543.7M540.20 141.6H543.7M540.20 152.0H543.7" stroke="#000" stroke-width="0.8"/>
<text x="535.50" y="120.80" dy="0" font-size="8.8" font-weight="bold" text-anchor="middle" textLength="15.37" lengthAdjust="spacingAndGlyphs" transform="rotate(-90 535.50 120.80)">1.05</text>
<text x="535.50" y="152.00" dy="0" font-size="8.8" font-weight="bold" text-anchor="middle" textLength="15.37" lengthAdjust="spacingAndGlyphs" transform="rotate(-90 535.50 152.00)">0.90</text>
<clipPath id="clip_WStR"><rect x="623.4" y="108.8" width="60.6" height="44.60000000000001"/></clipPath>
<path d="M624.08 108.8V153.4M627.04 108.8V153.4M630.00 108.8V153.4M632.97 108.8V153.4M635.93 108.8V153.4M638.89 108.8V153.4M641.85 108.8V153.4M644.81 108.8V153.4M647.78 108.8V153.4M650.74 108.8V153.4M656.66 108.8V153.4M659.62 108.8V153.4M662.59 108.8V153.4M665.55 108.8V153.4M668.51 108.8V153.4M671.47 108.8V153.4M674.43 108.8V153.4M677.40 108.8V153.4M680.36 108.8V153.4M683.32 108.8V153.4" stroke="#e6e9ea" stroke-width="0.9" fill="none"/>
<line x1="653.70" y1="108.8" x2="653.70" y2="153.4" stroke="#8c8c8c" stroke-width="0.9"/>
<line x1="623.4" y1="120.5" x2="684.0" y2="120.5" stroke="#000" stroke-width="2.2"/>
<g clip-path="url(#clip_WStR)" fill="none" stroke-width="2.4" stroke-linejoin="round">
<path d="M624.4 131.8 L629.3 132.5 L634.8 132.5 L640.3 131.8 L645.8 132.5 L651.3 132.5 L656.8 131.1 L662.3 130.1 L669.2 128.3 L673.3 129.0 L677.4 131.1 L681.6 130.4" stroke="#ff0000"/>
<path d="M624.4 129.7 L627.9 130.7 L632.0 128.7 L637.5 128.3 L643.0 129.0 L645.8 128.7 L651.3 126.3 L656.8 124.9 L662.3 123.2 L667.8 123.2 L671.9 122.4 L674.0 121.0 L677.4 122.8 L681.6 124.2" stroke="#0000ff"/>
<path d="M624.4 142.1 L631.3 142.1 L636.1 142.5 L640.3 142.1 L646.5 140.0 L655.4 140.0 L661.6 137.3 L666.4 137.6 L671.2 138.0 L677.4 136.6 L681.6 136.2" stroke="#ff0000" stroke-dasharray="4.9 11.16" stroke-dashoffset="-1.3" stroke-linecap="round"/>
<path d="M624.4 141.4 L631.3 141.7 L636.1 142.1 L640.3 141.1 L647.1 138.0 L654.7 135.2 L660.9 132.9 L665.0 131.1 L669.9 129.0 L676.1 130.7 L681.6 130.4" stroke="#0000ff" stroke-dasharray="4.9 11.16" stroke-dashoffset="-1.3" stroke-linecap="round"/>
</g>
<rect x="623.4" y="108.8" width="60.6" height="44.60" fill="none" stroke="#000" stroke-width="1.3"/>
<path d="M619.90 110.3H623.4M619.90 120.5H623.4M619.90 130.6H623.4M619.90 140.8H623.4M619.90 151.0H623.4" stroke="#000" stroke-width="0.8"/>
<text x="615.20" y="120.50" dy="0" font-size="8.8" font-weight="bold" text-anchor="middle" textLength="15.37" lengthAdjust="spacingAndGlyphs" transform="rotate(-90 615.20 120.50)">1.00</text>
<text x="615.20" y="151.00" dy="0" font-size="8.8" font-weight="bold" text-anchor="middle" textLength="15.37" lengthAdjust="spacingAndGlyphs" transform="rotate(-90 615.20 151.00)">0.97</text>
<clipPath id="clip_BL1"><rect x="29.5" y="191.9" width="60.6" height="44.5"/></clipPath>
<path d="M30.18 191.9V236.4M33.14 191.9V236.4M36.10 191.9V236.4M39.07 191.9V236.4M42.03 191.9V236.4M44.99 191.9V236.4M47.95 191.9V236.4M50.91 191.9V236.4M53.88 191.9V236.4M56.84 191.9V236.4M62.76 191.9V236.4M65.72 191.9V236.4M68.69 191.9V236.4M71.65 191.9V236.4M74.61 191.9V236.4M77.57 191.9V236.4M80.53 191.9V236.4M83.50 191.9V236.4M86.46 191.9V236.4M89.42 191.9V236.4" stroke="#e6e9ea" stroke-width="0.9" fill="none"/>
<line x1="59.80" y1="191.9" x2="59.80" y2="236.4" stroke="#8c8c8c" stroke-width="0.9"/>
<g clip-path="url(#clip_BL1)" fill="none" stroke-width="2.4" stroke-linejoin="round">
<path d="M29.5 210.0 L90.1 210.0" stroke="#000" stroke-dasharray="2 6.07" stroke-dashoffset="1" stroke-width="2"/>
<path d="M31.4 193.0 L55.5 193.4 L88.6 193.4" stroke="#ff0000" stroke-dasharray="4.9 11.16" stroke-dashoffset="-1.3" stroke-linecap="round"/>
<path d="M31.4 193.4 L39.0 194.8 L48.6 195.2 L55.5 195.8 L62.4 196.2 L69.3 195.8 L76.2 194.1 L83.1 193.9 L88.6 194.1" stroke="#ff0000"/>
<path d="M31.4 200.7 L36.3 202.1 L38.3 203.8 L47.3 206.2 L53.5 206.5 L63.1 204.5 L69.3 203.8 L78.2 203.1 L84.4 201.0 L88.6 200.3" stroke="#0000ff" stroke-dasharray="4.9 11.16" stroke-dashoffset="-1.3" stroke-linecap="round"/>
<path d="M31.4 212.0 L34.2 212.3 L36.3 209.3 L38.3 205.1 L40.4 200.3 L42.5 198.9 L44.5 201.0 L45.9 203.8 L48.6 206.5 L51.4 205.1 L55.5 207.2 L59.7 205.1 L63.8 203.8 L67.9 203.1 L72.0 201.7 L76.2 201.0 L78.9 203.8 L81.7 201.0 L85.8 200.7 L88.6 197.6" stroke="#0000ff"/>
</g>
<rect x="29.5" y="191.9" width="60.6" height="44.50" fill="none" stroke="#000" stroke-width="1.3"/>
<path d="M26.00 201.5H29.5M26.00 217.8H29.5M26.00 234.1H29.5" stroke="#000" stroke-width="0.8"/>
<text x="21.30" y="201.50" dy="0" font-size="8.8" font-weight="bold" text-anchor="middle" textLength="22.19" lengthAdjust="spacingAndGlyphs" transform="rotate(-90 21.30 201.50)">1e−01</text>
<text x="21.30" y="234.10" dy="0" font-size="8.8" font-weight="bold" text-anchor="middle" textLength="22.19" lengthAdjust="spacingAndGlyphs" transform="rotate(-90 21.30 234.10)">1e−05</text>
<text transform="translate(59.80 186.6) scale(1 1.08)" font-size="13" font-weight="bold" text-anchor="middle">L1</text>
<clipPath id="clip_BL2"><rect x="109.2" y="191.9" width="60.6" height="44.5"/></clipPath>
<path d="M109.88 191.9V236.4M112.84 191.9V236.4M115.80 191.9V236.4M118.77 191.9V236.4M121.73 191.9V236.4M124.69 191.9V236.4M127.65 191.9V236.4M130.61 191.9V236.4M133.58 191.9V236.4M136.54 191.9V236.4M142.46 191.9V236.4M145.42 191.9V236.4M148.39 191.9V236.4M151.35 191.9V236.4M154.31 191.9V236.4M157.27 191.9V236.4M160.23 191.9V236.4M163.20 191.9V236.4M166.16 191.9V236.4M169.12 191.9V236.4" stroke="#e6e9ea" stroke-width="0.9" fill="none"/>
<line x1="139.50" y1="191.9" x2="139.50" y2="236.4" stroke="#8c8c8c" stroke-width="0.9"/>
<g clip-path="url(#clip_BL2)" fill="none" stroke-width="2.4" stroke-linejoin="round">
<path d="M109.2 210.0 L169.8 210.0" stroke="#000" stroke-dasharray="2 6.07" stroke-dashoffset="1" stroke-width="2"/>
<path d="M110.4 193.4 L116.6 193.9 L120.8 198.3 L124.9 197.6 L129.0 196.6 L134.5 198.0 L140.0 198.9 L145.5 199.4 L148.3 199.9 L153.8 202.4 L159.3 203.8 L162.1 205.8 L164.8 205.1 L167.6 204.5" stroke="#0000ff"/>
<path d="M110.4 204.5 L115.3 205.4 L120.8 204.9 L127.6 206.2 L134.5 207.2 L141.4 208.2 L148.3 207.6 L155.2 207.2 L162.1 206.8 L167.6 206.2" stroke="#ff0000"/>
<path d="M110.4 221.0 L117.3 221.7 L122.1 221.0 L125.6 218.9 L130.4 215.9 L134.5 215.0 L140.0 214.5 L146.2 213.1 L154.5 213.1 L160.7 212.7 L167.6 212.0" stroke="#ff0000" stroke-dasharray="4.9 11.16" stroke-dashoffset="-1.3" stroke-linecap="round"/>
<path d="M111.54 207.30 L114.85 206.36" stroke="#0000ff" stroke-linecap="round"/>
<path d="M124.62 202.80 L126.27 202.39 L127.92 203.21" stroke="#0000ff" stroke-linecap="round"/>
<path d="M137.69 203.90 L139.34 205.14 L140.58 206.38" stroke="#0000ff" stroke-linecap="round"/>
<path d="M148.70 208.36 L153.38 207.42" stroke="#0000ff" stroke-linecap="round"/>
<path d="M163.15 207.99 L164.80 209.17" stroke="#0000ff" stroke-linecap="round"/>
</g>
<rect x="109.2" y="191.9" width="60.6" height="44.50" fill="none" stroke="#000" stroke-width="1.3"/>
<path d="M105.70 201.5H109.2M105.70 217.8H109.2M105.70 234.1H109.2" stroke="#000" stroke-width="0.8"/>
<text x="101.00" y="201.50" dy="0" font-size="8.8" font-weight="bold" text-anchor="middle" textLength="22.19" lengthAdjust="spacingAndGlyphs" transform="rotate(-90 101.00 201.50)">1e−01</text>
<text x="101.00" y="234.10" dy="0" font-size="8.8" font-weight="bold" text-anchor="middle" textLength="22.19" lengthAdjust="spacingAndGlyphs" transform="rotate(-90 101.00 234.10)">1e−05</text>
<text transform="translate(139.50 186.6) scale(1 1.08)" font-size="13" font-weight="bold" text-anchor="middle">L2</text>
<clipPath id="clip_BL3"><rect x="188.9" y="191.9" width="60.6" height="44.5"/></clipPath>
<path d="M189.58 191.9V236.4M192.54 191.9V236.4M195.50 191.9V236.4M198.47 191.9V236.4M201.43 191.9V236.4M204.39 191.9V236.4M207.35 191.9V236.4M210.31 191.9V236.4M213.28 191.9V236.4M216.24 191.9V236.4M222.16 191.9V236.4M225.12 191.9V236.4M228.09 191.9V236.4M231.05 191.9V236.4M234.01 191.9V236.4M236.97 191.9V236.4M239.93 191.9V236.4M242.90 191.9V236.4M245.86 191.9V236.4M248.82 191.9V236.4" stroke="#e6e9ea" stroke-width="0.9" fill="none"/>
<line x1="219.20" y1="191.9" x2="219.20" y2="236.4" stroke="#8c8c8c" stroke-width="0.9"/>
<g clip-path="url(#clip_BL3)" fill="none" stroke-width="2.4" stroke-linejoin="round">
<path d="M188.9 210.0 L249.5 210.0" stroke="#000" stroke-dasharray="2 6.07" stroke-dashoffset="1" stroke-width="2"/>
<path d="M191.40 194.58 L196.22 195.43" stroke="#0000ff" stroke-linecap="round"/>
<path d="M206.82 194.93 L211.77 194.73" stroke="#0000ff" stroke-linecap="round"/>
<path d="M222.23 194.68 L227.05 194.68" stroke="#0000ff" stroke-linecap="round"/>
<path d="M237.65 195.65 L242.88 195.02" stroke="#0000ff" stroke-linecap="round"/>
<path d="M208.06 193.85 L212.74 193.85" stroke="#ff0000" stroke-linecap="round"/>
<path d="M224.16 194.02 L228.29 193.85 L228.84 193.88" stroke="#ff0000" stroke-linecap="round"/>
<path d="M240.40 194.27 L245.08 194.27" stroke="#ff0000" stroke-linecap="round"/>
<path d="M190.4 200.3 L195.3 199.6 L198.0 198.5 L200.8 196.2 L206.3 195.8 L211.8 195.5 L217.3 195.2 L222.8 196.9 L228.3 198.9 L233.8 201.0 L239.3 202.4 L244.8 205.1 L247.6 204.5" stroke="#0000ff"/>
<path d="M190.4 212.0 L195.3 212.0 L199.4 213.4 L204.9 210.6 L211.8 212.0 L220.0 214.1 L228.3 216.1 L233.8 216.8 L239.3 215.5 L244.8 210.6 L247.6 212.0" stroke="#ff0000"/>
</g>
<rect x="188.9" y="191.9" width="60.6" height="44.50" fill="none" stroke="#000" stroke-width="1.3"/>
<path d="M185.40 201.5H188.9M185.40 217.8H188.9M185.40 234.1H188.9" stroke="#000" stroke-width="0.8"/>
<text x="180.70" y="201.50" dy="0" font-size="8.8" font-weight="bold" text-anchor="middle" textLength="22.19" lengthAdjust="spacingAndGlyphs" transform="rotate(-90 180.70 201.50)">1e−01</text>
<text x="180.70" y="234.10" dy="0" font-size="8.8" font-weight="bold" text-anchor="middle" textLength="22.19" lengthAdjust="spacingAndGlyphs" transform="rotate(-90 180.70 234.10)">1e−05</text>
<text transform="translate(219.20 186.6) scale(1 1.08)" font-size="13" font-weight="bold" text-anchor="middle">L3</text>
<clipPath id="clip_BLe"><rect x="268.6" y="191.9" width="60.6" height="44.5"/></clipPath>
<path d="M269.28 191.9V236.4M272.24 191.9V236.4M275.20 191.9V236.4M278.17 191.9V236.4M281.13 191.9V236.4M284.09 191.9V236.4M287.05 191.9V236.4M290.01 191.9V236.4M292.98 191.9V236.4M295.94 191.9V236.4M301.86 191.9V236.4M304.82 191.9V236.4M307.79 191.9V236.4M310.75 191.9V236.4M313.71 191.9V236.4M316.67 191.9V236.4M319.63 191.9V236.4M322.60 191.9V236.4M325.56 191.9V236.4M328.52 191.9V236.4" stroke="#e6e9ea" stroke-width="0.9" fill="none"/>
<line x1="298.90" y1="191.9" x2="298.90" y2="236.4" stroke="#8c8c8c" stroke-width="0.9"/>
<g clip-path="url(#clip_BLe)" fill="none" stroke-width="2.4" stroke-linejoin="round">
<path d="M268.6 201.7 L329.2 201.7" stroke="#000" stroke-dasharray="2 6.07" stroke-dashoffset="1" stroke-width="2"/>
<path d="M270.4 193.0 L327.6 193.0" stroke="#0000ff" stroke-dasharray="4.9 11.16" stroke-dashoffset="-1.3" stroke-linecap="round"/>
<path d="M270.4 216.8 L276.6 216.8 L280.8 216.4 L284.9 216.1 L289.7 217.3 L294.5 217.5 L300.7 214.8 L306.9 213.4 L312.4 210.6 L316.5 209.3 L320.7 209.0 L323.4 212.3 L327.6 212.7" stroke="#ff0000" stroke-dasharray="4.9 11.16" stroke-dashoffset="-1.3" stroke-linecap="round"/>
<path d="M270.4 219.6 L275.3 221.7 L280.8 223.0 L283.5 225.5 L287.6 226.1 L294.5 226.9 L298.0 226.1 L300.0 222.3 L304.2 219.6 L306.9 216.1 L309.7 212.7 L313.8 210.6 L317.9 210.6 L321.4 211.3 L327.6 212.0" stroke="#ff0000"/>
<path d="M270.4 214.8 L273.9 215.5 L278.0 214.1 L283.5 212.7 L287.6 215.5 L294.5 218.2 L300.0 215.5 L305.5 213.7 L311.0 211.3 L315.2 210.0 L319.3 210.6 L324.8 209.3 L327.6 207.9" stroke="#0000ff"/>
</g>
<rect x="268.6" y="191.9" width="60.6" height="44.50" fill="none" stroke="#000" stroke-width="1.3"/>
<path d="M265.10 197.3H268.6M265.10 209.6H268.6M265.10 221.9H268.6M265.10 234.2H268.6" stroke="#000" stroke-width="0.8"/>
<text x="260.40" y="197.30" dy="0" font-size="8.8" font-weight="bold" text-anchor="middle" textLength="22.19" lengthAdjust="spacingAndGlyphs" transform="rotate(-90 260.40 197.30)">1e−01</text>
<text x="260.40" y="234.20" dy="0" font-size="8.8" font-weight="bold" text-anchor="middle" textLength="22.19" lengthAdjust="spacingAndGlyphs" transform="rotate(-90 260.40 234.20)">1e−10</text>
<text transform="translate(298.90 186.6) scale(1 1.08)" font-size="13" font-weight="bold" text-anchor="middle">Length</text>
<clipPath id="clip_WL1"><rect x="384.3" y="191.9" width="60.6" height="44.5"/></clipPath>
<path d="M384.98 191.9V236.4M387.94 191.9V236.4M390.90 191.9V236.4M393.87 191.9V236.4M396.83 191.9V236.4M399.79 191.9V236.4M402.75 191.9V236.4M405.71 191.9V236.4M408.68 191.9V236.4M411.64 191.9V236.4M417.56 191.9V236.4M420.52 191.9V236.4M423.49 191.9V236.4M426.45 191.9V236.4M429.41 191.9V236.4M432.37 191.9V236.4M435.33 191.9V236.4M438.30 191.9V236.4M441.26 191.9V236.4M444.22 191.9V236.4" stroke="#e6e9ea" stroke-width="0.9" fill="none"/>
<line x1="414.60" y1="191.9" x2="414.60" y2="236.4" stroke="#8c8c8c" stroke-width="0.9"/>
<g clip-path="url(#clip_WL1)" fill="none" stroke-width="2.4" stroke-linejoin="round">
<path d="M384.3 207.2 L444.9 207.2" stroke="#000" stroke-dasharray="2 6.07" stroke-dashoffset="1" stroke-width="2"/>
<path d="M385.4 195.5 L390.3 193.9 L395.8 193.4 L409.5 193.4 L423.3 193.4 L442.6 193.0" stroke="#0000ff"/>
<path d="M386.54 199.40 L391.22 199.59" stroke="#ff0000" stroke-linecap="round"/>
<path d="M402.37 201.38 L406.36 202.71" stroke="#ff0000" stroke-linecap="round"/>
<path d="M417.51 203.69 L419.16 203.07 L421.50 202.29" stroke="#ff0000" stroke-linecap="round"/>
<path d="M432.65 199.40 L434.99 199.63 L435.95 200.41" stroke="#ff0000" stroke-linecap="round"/>
<path d="M385.4 207.2 L390.3 207.9 L395.8 207.6 L402.6 206.8 L409.5 206.2 L415.0 205.4 L417.8 203.8 L423.3 201.3 L428.8 201.0 L432.9 202.4 L437.1 203.8 L442.6 203.8" stroke="#ff0000"/>
<path d="M386.54 219.34 L388.88 220.28 L391.22 219.81" stroke="#0000ff" stroke-linecap="round"/>
<path d="M399.62 218.43 L402.92 216.20" stroke="#0000ff" stroke-linecap="round"/>
<path d="M412.00 214.01 L415.99 212.23" stroke="#0000ff" stroke-linecap="round"/>
<path d="M426.45 213.43 L429.07 215.15" stroke="#0000ff" stroke-linecap="round"/>
<path d="M440.22 215.31 L442.14 215.78" stroke="#0000ff" stroke-linecap="round"/>
</g>
<rect x="384.3" y="191.9" width="60.6" height="44.50" fill="none" stroke="#000" stroke-width="1.3"/>
<path d="M380.80 193.2H384.3M380.80 207.0H384.3M380.80 220.9H384.3M380.80 234.8H384.3" stroke="#000" stroke-width="0.8"/>
<text x="376.10" y="193.20" dy="0" font-size="8.8" font-weight="bold" text-anchor="middle" textLength="22.19" lengthAdjust="spacingAndGlyphs" transform="rotate(-90 376.10 193.20)">1e+00</text>
<text x="376.10" y="234.80" dy="0" font-size="8.8" font-weight="bold" text-anchor="middle" textLength="22.19" lengthAdjust="spacingAndGlyphs" transform="rotate(-90 376.10 234.80)">1e−06</text>
<text transform="translate(414.60 186.6) scale(1 1.08)" font-size="13" font-weight="bold" text-anchor="middle">L1</text>
<clipPath id="clip_WL2"><rect x="464.0" y="191.9" width="60.6" height="44.5"/></clipPath>
<path d="M464.68 191.9V236.4M467.64 191.9V236.4M470.60 191.9V236.4M473.57 191.9V236.4M476.53 191.9V236.4M479.49 191.9V236.4M482.45 191.9V236.4M485.41 191.9V236.4M488.38 191.9V236.4M491.34 191.9V236.4M497.26 191.9V236.4M500.22 191.9V236.4M503.19 191.9V236.4M506.15 191.9V236.4M509.11 191.9V236.4M512.07 191.9V236.4M515.03 191.9V236.4M518.00 191.9V236.4M520.96 191.9V236.4M523.92 191.9V236.4" stroke="#e6e9ea" stroke-width="0.9" fill="none"/>
<line x1="494.30" y1="191.9" x2="494.30" y2="236.4" stroke="#8c8c8c" stroke-width="0.9"/>
<g clip-path="url(#clip_WL2)" fill="none" stroke-width="2.4" stroke-linejoin="round">
<path d="M464.0 210.0 L524.6 210.0" stroke="#000" stroke-dasharray="2 6.07" stroke-dashoffset="1" stroke-width="2"/>
<path d="M465.4 193.0 L472.3 194.4 L481.3 194.8 L487.5 198.0 L492.3 197.6 L497.1 196.2 L503.3 196.2 L508.8 198.3 L512.2 198.5 L518.4 198.0 L522.6 197.6" stroke="#0000ff" stroke-dasharray="4.9 11.16" stroke-dashoffset="-1.3" stroke-linecap="round"/>
<path d="M465.4 205.1 L471.6 203.1 L479.9 204.0 L486.8 203.8 L495.0 203.1 L501.2 202.1 L510.2 201.3 L515.7 199.6 L522.6 198.3" stroke="#ff0000" stroke-dasharray="4.9 11.16" stroke-dashoffset="-1.3" stroke-linecap="round"/>
<path d="M465.4 201.0 L470.3 200.7 L475.8 201.3 L482.6 203.1 L489.5 204.5 L495.0 207.2 L499.2 209.3 L501.2 212.7 L506.0 210.0 L510.2 211.3 L514.3 208.6 L518.4 209.3 L522.6 210.4" stroke="#ff0000"/>
<path d="M465.4 221.9 L468.2 217.5 L470.3 215.5 L475.8 216.1 L478.5 214.8 L482.6 216.8 L485.4 218.2 L489.5 218.9 L492.3 218.2 L495.0 216.8 L499.2 217.5 L503.3 214.8 L507.4 218.2 L510.2 217.5 L514.3 213.4 L519.8 212.7 L522.6 210.4" stroke="#0000ff"/>
</g>
<rect x="464.0" y="191.9" width="60.6" height="44.50" fill="none" stroke="#000" stroke-width="1.3"/>
<path d="M460.50 201.5H464.0M460.50 217.8H464.0M460.50 234.1H464.0" stroke="#000" stroke-width="0.8"/>
<text x="455.80" y="201.50" dy="0" font-size="8.8" font-weight="bold" text-anchor="middle" textLength="22.19" lengthAdjust="spacingAndGlyphs" transform="rotate(-90 455.80 201.50)">1e−01</text>
<text x="455.80" y="234.10" dy="0" font-size="8.8" font-weight="bold" text-anchor="middle" textLength="22.19" lengthAdjust="spacingAndGlyphs" transform="rotate(-90 455.80 234.10)">1e−05</text>
<text transform="translate(494.30 186.6) scale(1 1.08)" font-size="13" font-weight="bold" text-anchor="middle">L2</text>
<clipPath id="clip_WL3"><rect x="543.7" y="191.9" width="60.6" height="44.5"/></clipPath>
<path d="M544.38 191.9V236.4M547.34 191.9V236.4M550.30 191.9V236.4M553.27 191.9V236.4M556.23 191.9V236.4M559.19 191.9V236.4M562.15 191.9V236.4M565.11 191.9V236.4M568.08 191.9V236.4M571.04 191.9V236.4M576.96 191.9V236.4M579.92 191.9V236.4M582.89 191.9V236.4M585.85 191.9V236.4M588.81 191.9V236.4M591.77 191.9V236.4M594.73 191.9V236.4M597.70 191.9V236.4M600.66 191.9V236.4M603.62 191.9V236.4" stroke="#e6e9ea" stroke-width="0.9" fill="none"/>
<line x1="574.00" y1="191.9" x2="574.00" y2="236.4" stroke="#8c8c8c" stroke-width="0.9"/>
<g clip-path="url(#clip_WL3)" fill="none" stroke-width="2.4" stroke-linejoin="round">
<path d="M543.7 205.1 L604.3 205.1" stroke="#000" stroke-dasharray="2 6.07" stroke-dashoffset="1" stroke-width="2"/>
<path d="M545.4 198.3 L552.3 196.9 L561.3 197.2 L567.5 196.2 L577.1 196.2 L583.3 196.9 L592.2 196.9 L598.4 196.9 L602.6 196.9" stroke="#ff0000" stroke-dasharray="4.9 11.16" stroke-dashoffset="-1.3" stroke-linecap="round"/>
<path d="M545.4 199.6 L548.9 198.5 L555.8 198.0 L562.6 197.6 L569.5 197.2 L576.4 195.5 L580.5 196.6 L586.0 196.6 L591.5 195.8 L597.1 195.2 L602.6 194.8" stroke="#0000ff"/>
<path d="M545.4 201.0 L550.3 201.7 L555.8 200.7 L561.3 200.3 L567.5 201.3 L572.3 202.1 L576.4 202.4 L582.6 201.3 L587.4 203.1 L591.5 205.4 L594.3 204.9 L597.7 206.5 L602.6 205.8" stroke="#0000ff" stroke-dasharray="4.9 11.16" stroke-dashoffset="-1.3" stroke-linecap="round"/>
<path d="M545.4 227.2 L550.3 228.5 L555.8 228.8 L559.9 231.0 L564.0 229.2 L569.5 227.4 L575.0 226.1 L577.8 223.7 L580.5 227.2 L584.7 229.9 L588.8 227.8 L591.5 224.4 L597.1 224.7 L602.6 223.7" stroke="#ff0000"/>
</g>
<rect x="543.7" y="191.9" width="60.6" height="44.50" fill="none" stroke="#000" stroke-width="1.3"/>
<path d="M540.20 199.6H543.7M540.20 211.1H543.7M540.20 222.6H543.7M540.20 234.1H543.7" stroke="#000" stroke-width="0.8"/>
<text x="535.50" y="199.60" dy="0" font-size="8.8" font-weight="bold" text-anchor="middle" textLength="22.19" lengthAdjust="spacingAndGlyphs" transform="rotate(-90 535.50 199.60)">1e−01</text>
<text x="535.50" y="234.10" dy="0" font-size="8.8" font-weight="bold" text-anchor="middle" textLength="22.19" lengthAdjust="spacingAndGlyphs" transform="rotate(-90 535.50 234.10)">1e−07</text>
<text transform="translate(574.00 186.6) scale(1 1.08)" font-size="13" font-weight="bold" text-anchor="middle">L3</text>
<clipPath id="clip_WLe"><rect x="623.4" y="191.9" width="60.6" height="44.5"/></clipPath>
<path d="M624.08 191.9V236.4M627.04 191.9V236.4M630.00 191.9V236.4M632.97 191.9V236.4M635.93 191.9V236.4M638.89 191.9V236.4M641.85 191.9V236.4M644.81 191.9V236.4M647.78 191.9V236.4M650.74 191.9V236.4M656.66 191.9V236.4M659.62 191.9V236.4M662.59 191.9V236.4M665.55 191.9V236.4M668.51 191.9V236.4M671.47 191.9V236.4M674.43 191.9V236.4M677.40 191.9V236.4M680.36 191.9V236.4M683.32 191.9V236.4" stroke="#e6e9ea" stroke-width="0.9" fill="none"/>
<line x1="653.70" y1="191.9" x2="653.70" y2="236.4" stroke="#8c8c8c" stroke-width="0.9"/>
<g clip-path="url(#clip_WLe)" fill="none" stroke-width="2.4" stroke-linejoin="round">
<path d="M623.4 201.7 L684.0 201.7" stroke="#000" stroke-dasharray="2 6.07" stroke-dashoffset="1" stroke-width="2"/>
<path d="M624.4 194.8 L632.0 195.2 L640.3 194.8 L645.8 196.2 L651.3 197.2 L656.8 195.8 L662.3 194.1 L667.8 194.8 L673.3 196.2 L678.8 195.8 L681.6 196.9" stroke="#0000ff"/>
<path d="M624.4 198.9 L630.6 199.9 L634.8 198.9 L640.3 198.5 L646.5 196.6 L651.3 196.2 L656.1 196.6 L662.3 194.8 L667.8 194.4 L671.9 194.1 L678.8 193.9 L681.6 194.1" stroke="#0000ff" stroke-dasharray="4.9 11.16" stroke-dashoffset="-1.3" stroke-linecap="round"/>
<path d="M624.4 201.7 L632.0 202.7 L640.3 201.7 L648.5 201.7 L655.4 200.7 L662.3 199.6 L667.8 199.9 L673.3 198.9 L678.8 200.3 L681.6 199.6" stroke="#ff0000"/>
<path d="M625.54 222.62 L630.63 222.01" stroke="#ff0000" stroke-linecap="round"/>
<path d="M638.34 227.12 L642.61 225.51" stroke="#ff0000" stroke-linecap="round"/>
<path d="M651.28 225.07 L655.27 222.47" stroke="#ff0000" stroke-linecap="round"/>
<path d="M664.49 218.55 L668.90 216.01" stroke="#ff0000" stroke-linecap="round"/>
<path d="M679.08 214.39 L681.28 214.18" stroke="#ff0000" stroke-linecap="round"/>
</g>
<rect x="623.4" y="191.9" width="60.6" height="44.50" fill="none" stroke="#000" stroke-width="1.3"/>
<path d="M619.90 197.3H623.4M619.90 209.6H623.4M619.90 221.9H623.4M619.90 234.2H623.4" stroke="#000" stroke-width="0.8"/>
<text x="615.20" y="197.30" dy="0" font-size="8.8" font-weight="bold" text-anchor="middle" textLength="22.19" lengthAdjust="spacingAndGlyphs" transform="rotate(-90 615.20 197.30)">1e−01</text>
<text x="615.20" y="234.20" dy="0" font-size="8.8" font-weight="bold" text-anchor="middle" textLength="22.19" lengthAdjust="spacingAndGlyphs" transform="rotate(-90 615.20 234.20)">1e−10</text>
<text transform="translate(653.70 186.6) scale(1 1.08)" font-size="13" font-weight="bold" text-anchor="middle">Length</text>
<clipPath id="clip_BL1R"><rect x="29.5" y="262.3" width="60.6" height="44.30000000000001"/></clipPath>
<path d="M30.18 262.3V306.6M33.14 262.3V306.6M36.10 262.3V306.6M39.07 262.3V306.6M42.03 262.3V306.6M44.99 262.3V306.6M47.95 262.3V306.6M50.91 262.3V306.6M53.88 262.3V306.6M56.84 262.3V306.6M62.76 262.3V306.6M65.72 262.3V306.6M68.69 262.3V306.6M71.65 262.3V306.6M74.61 262.3V306.6M77.57 262.3V306.6M80.53 262.3V306.6M83.50 262.3V306.6M86.46 262.3V306.6M89.42 262.3V306.6" stroke="#e6e9ea" stroke-width="0.9" fill="none"/>
<line x1="59.80" y1="262.3" x2="59.80" y2="306.6" stroke="#8c8c8c" stroke-width="0.9"/>
<line x1="29.5" y1="284.3" x2="90.1" y2="284.3" stroke="#000" stroke-width="2.2"/>
<g clip-path="url(#clip_BL1R)" fill="none" stroke-width="2.4" stroke-linejoin="round">
<path d="M31.4 277.2 L37.6 276.2 L41.8 275.1 L46.6 273.8 L52.8 273.1 L57.6 274.5 L62.4 275.4 L67.9 276.5 L73.4 276.2 L77.5 275.8 L80.3 277.6 L83.1 277.9 L88.6 277.2" stroke="#0000ff" stroke-dasharray="4.9 11.16" stroke-dashoffset="-1.3" stroke-linecap="round"/>
<path d="M31.4 284.5 L55.5 284.8 L88.6 284.2" stroke="#ff0000" stroke-dasharray="4.9 11.16" stroke-dashoffset="-1.3" stroke-linecap="round"/>
<path d="M31.4 285.0 L41.8 285.5 L55.5 285.9 L69.3 285.5 L88.6 284.8" stroke="#ff0000"/>
<path d="M31.4 296.1 L34.9 295.5 L38.3 293.0 L41.1 289.6 L44.5 290.0 L47.3 291.9 L51.4 292.8 L55.5 293.7 L59.7 292.3 L65.2 292.3 L69.3 292.8 L73.4 290.0 L77.5 289.6 L83.1 291.0 L88.6 291.7" stroke="#0000ff"/>
</g>
<rect x="29.5" y="262.3" width="60.6" height="44.30" fill="none" stroke="#000" stroke-width="1.3"/>
<path d="M26.00 263.5H29.5M26.00 273.9H29.5M26.00 284.3H29.5M26.00 294.7H29.5M26.00 305.1H29.5" stroke="#000" stroke-width="0.8"/>
<text x="21.30" y="263.50" dy="0" font-size="8.8" font-weight="bold" text-anchor="middle" textLength="10.98" lengthAdjust="spacingAndGlyphs" transform="rotate(-90 21.30 263.50)">1.2</text>
<text x="21.30" y="284.30" dy="0" font-size="8.8" font-weight="bold" text-anchor="middle" textLength="10.98" lengthAdjust="spacingAndGlyphs" transform="rotate(-90 21.30 284.30)">1.0</text>
<text x="21.30" y="305.10" dy="0" font-size="8.8" font-weight="bold" text-anchor="middle" textLength="10.98" lengthAdjust="spacingAndGlyphs" transform="rotate(-90 21.30 305.10)">0.8</text>
<path d="M36.10 306.6V310.1M47.95 306.6V310.1M59.80 306.6V310.1M71.65 306.6V310.1M83.50 306.6V310.1" stroke="#000" stroke-width="0.8"/>
<text x="36.10" y="313.80" dy="3.0" font-size="8.8" font-weight="bold" text-anchor="end" textLength="22.19" lengthAdjust="spacingAndGlyphs" transform="rotate(-90 36.10 313.80)">−1600</text>
<text x="47.95" y="313.80" dy="3.0" font-size="8.8" font-weight="bold" text-anchor="end" textLength="17.79" lengthAdjust="spacingAndGlyphs" transform="rotate(-90 47.95 313.80)">−800</text>
<text x="59.80" y="313.80" dy="3.0" font-size="8.8" font-weight="bold" text-anchor="end" textLength="4.39" lengthAdjust="spacingAndGlyphs" transform="rotate(-90 59.80 313.80)">0</text>
<text x="71.65" y="313.80" dy="3.0" font-size="8.8" font-weight="bold" text-anchor="end" textLength="13.18" lengthAdjust="spacingAndGlyphs" transform="rotate(-90 71.65 313.80)">800</text>
<text x="83.50" y="313.80" dy="3.0" font-size="8.8" font-weight="bold" text-anchor="end" textLength="17.57" lengthAdjust="spacingAndGlyphs" transform="rotate(-90 83.50 313.80)">1600</text>
<clipPath id="clip_BL2R"><rect x="109.2" y="262.3" width="60.6" height="44.30000000000001"/></clipPath>
<path d="M109.88 262.3V306.6M112.84 262.3V306.6M115.80 262.3V306.6M118.77 262.3V306.6M121.73 262.3V306.6M124.69 262.3V306.6M127.65 262.3V306.6M130.61 262.3V306.6M133.58 262.3V306.6M136.54 262.3V306.6M142.46 262.3V306.6M145.42 262.3V306.6M148.39 262.3V306.6M151.35 262.3V306.6M154.31 262.3V306.6M157.27 262.3V306.6M160.23 262.3V306.6M163.20 262.3V306.6M166.16 262.3V306.6M169.12 262.3V306.6" stroke="#e6e9ea" stroke-width="0.9" fill="none"/>
<line x1="139.50" y1="262.3" x2="139.50" y2="306.6" stroke="#8c8c8c" stroke-width="0.9"/>
<line x1="109.2" y1="284.3" x2="169.8" y2="284.3" stroke="#000" stroke-width="2.2"/>
<g clip-path="url(#clip_BL2R)" fill="none" stroke-width="2.4" stroke-linejoin="round">
<path d="M110.4 280.0 L120.8 279.3 L134.5 279.0 L148.3 278.6 L167.6 279.5" stroke="#ff0000"/>
<path d="M110.4 284.1 L113.9 284.8 L118.0 282.7 L120.8 278.6 L124.9 277.9 L129.0 280.0 L134.5 278.6 L140.0 277.9 L145.5 277.2 L151.0 275.8 L156.5 274.9 L160.7 273.5 L167.6 273.8" stroke="#0000ff"/>
<path d="M110.4 291.0 L117.3 290.6 L127.0 290.0 L133.8 289.6 L142.8 289.2 L149.7 288.9 L158.6 288.9 L167.6 289.6" stroke="#ff0000" stroke-dasharray="4.9 11.16" stroke-dashoffset="-1.3" stroke-linecap="round"/>
<path d="M110.4 295.1 L116.6 293.3 L120.8 292.8 L125.6 292.3 L128.3 293.0 L131.8 291.0 L136.6 292.8 L141.4 294.4 L146.9 295.8 L152.4 294.7 L156.5 293.7 L162.1 295.1 L167.6 294.4" stroke="#0000ff" stroke-dasharray="4.9 11.16" stroke-dashoffset="-1.3" stroke-linecap="round"/>
</g>
<rect x="109.2" y="262.3" width="60.6" height="44.30" fill="none" stroke="#000" stroke-width="1.3"/>
<path d="M105.70 263.5H109.2M105.70 273.9H109.2M105.70 284.3H109.2M105.70 294.7H109.2M105.70 305.1H109.2" stroke="#000" stroke-width="0.8"/>
<text x="101.00" y="263.50" dy="0" font-size="8.8" font-weight="bold" text-anchor="middle" textLength="10.98" lengthAdjust="spacingAndGlyphs" transform="rotate(-90 101.00 263.50)">1.2</text>
<text x="101.00" y="284.30" dy="0" font-size="8.8" font-weight="bold" text-anchor="middle" textLength="10.98" lengthAdjust="spacingAndGlyphs" transform="rotate(-90 101.00 284.30)">1.0</text>
<text x="101.00" y="305.10" dy="0" font-size="8.8" font-weight="bold" text-anchor="middle" textLength="10.98" lengthAdjust="spacingAndGlyphs" transform="rotate(-90 101.00 305.10)">0.8</text>
<path d="M115.80 306.6V310.1M127.65 306.6V310.1M139.50 306.6V310.1M151.35 306.6V310.1M163.20 306.6V310.1" stroke="#000" stroke-width="0.8"/>
<text x="115.80" y="313.80" dy="3.0" font-size="8.8" font-weight="bold" text-anchor="end" textLength="22.19" lengthAdjust="spacingAndGlyphs" transform="rotate(-90 115.80 313.80)">−1600</text>
<text x="127.65" y="313.80" dy="3.0" font-size="8.8" font-weight="bold" text-anchor="end" textLength="17.79" lengthAdjust="spacingAndGlyphs" transform="rotate(-90 127.65 313.80)">−800</text>
<text x="139.50" y="313.80" dy="3.0" font-size="8.8" font-weight="bold" text-anchor="end" textLength="4.39" lengthAdjust="spacingAndGlyphs" transform="rotate(-90 139.50 313.80)">0</text>
<text x="151.35" y="313.80" dy="3.0" font-size="8.8" font-weight="bold" text-anchor="end" textLength="13.18" lengthAdjust="spacingAndGlyphs" transform="rotate(-90 151.35 313.80)">800</text>
<text x="163.20" y="313.80" dy="3.0" font-size="8.8" font-weight="bold" text-anchor="end" textLength="17.57" lengthAdjust="spacingAndGlyphs" transform="rotate(-90 163.20 313.80)">1600</text>
<clipPath id="clip_BL3R"><rect x="188.9" y="262.3" width="60.6" height="44.30000000000001"/></clipPath>
<path d="M189.58 262.3V306.6M192.54 262.3V306.6M195.50 262.3V306.6M198.47 262.3V306.6M201.43 262.3V306.6M204.39 262.3V306.6M207.35 262.3V306.6M210.31 262.3V306.6M213.28 262.3V306.6M216.24 262.3V306.6M222.16 262.3V306.6M225.12 262.3V306.6M228.09 262.3V306.6M231.05 262.3V306.6M234.01 262.3V306.6M236.97 262.3V306.6M239.93 262.3V306.6M242.90 262.3V306.6M245.86 262.3V306.6M248.82 262.3V306.6" stroke="#e6e9ea" stroke-width="0.9" fill="none"/>
<line x1="219.20" y1="262.3" x2="219.20" y2="306.6" stroke="#8c8c8c" stroke-width="0.9"/>
<line x1="188.9" y1="284.3" x2="249.5" y2="284.3" stroke="#000" stroke-width="2.2"/>
<g clip-path="url(#clip_BL3R)" fill="none" stroke-width="2.4" stroke-linejoin="round">
<path d="M190.4 283.7 L197.3 283.7 L206.3 284.5 L213.1 284.5 L222.1 284.1 L229.0 285.0 L238.6 284.8 L247.6 284.5" stroke="#ff0000" stroke-dasharray="4.9 11.16" stroke-dashoffset="-1.3" stroke-linecap="round"/>
<path d="M190.4 285.0 L196.6 285.9 L206.3 284.8 L213.1 284.8 L220.0 284.1 L225.5 284.8 L231.0 286.1 L236.5 286.4 L242.1 285.5 L247.6 284.8" stroke="#0000ff" stroke-dasharray="4.9 11.16" stroke-dashoffset="-1.3" stroke-linecap="round"/>
<path d="M190.4 291.0 L198.0 291.0 L203.5 290.0 L214.5 290.3 L222.8 290.6 L232.4 291.9 L239.3 291.4 L247.6 290.6" stroke="#ff0000"/>
<path d="M190.4 291.9 L196.6 291.7 L200.8 288.9 L207.6 288.2 L214.5 287.5 L220.0 287.5 L225.5 288.2 L231.0 289.6 L236.5 291.0 L242.1 292.3 L247.6 293.3" stroke="#0000ff"/>
</g>
<rect x="188.9" y="262.3" width="60.6" height="44.30" fill="none" stroke="#000" stroke-width="1.3"/>
<path d="M185.40 263.5H188.9M185.40 273.9H188.9M185.40 284.3H188.9M185.40 294.7H188.9M185.40 305.1H188.9" stroke="#000" stroke-width="0.8"/>
<text x="180.70" y="263.50" dy="0" font-size="8.8" font-weight="bold" text-anchor="middle" textLength="10.98" lengthAdjust="spacingAndGlyphs" transform="rotate(-90 180.70 263.50)">1.2</text>
<text x="180.70" y="284.30" dy="0" font-size="8.8" font-weight="bold" text-anchor="middle" textLength="10.98" lengthAdjust="spacingAndGlyphs" transform="rotate(-90 180.70 284.30)">1.0</text>
<text x="180.70" y="305.10" dy="0" font-size="8.8" font-weight="bold" text-anchor="middle" textLength="10.98" lengthAdjust="spacingAndGlyphs" transform="rotate(-90 180.70 305.10)">0.8</text>
<path d="M195.50 306.6V310.1M207.35 306.6V310.1M219.20 306.6V310.1M231.05 306.6V310.1M242.90 306.6V310.1" stroke="#000" stroke-width="0.8"/>
<text x="195.50" y="313.80" dy="3.0" font-size="8.8" font-weight="bold" text-anchor="end" textLength="22.19" lengthAdjust="spacingAndGlyphs" transform="rotate(-90 195.50 313.80)">−1600</text>
<text x="207.35" y="313.80" dy="3.0" font-size="8.8" font-weight="bold" text-anchor="end" textLength="17.79" lengthAdjust="spacingAndGlyphs" transform="rotate(-90 207.35 313.80)">−800</text>
<text x="219.20" y="313.80" dy="3.0" font-size="8.8" font-weight="bold" text-anchor="end" textLength="4.39" lengthAdjust="spacingAndGlyphs" transform="rotate(-90 219.20 313.80)">0</text>
<text x="231.05" y="313.80" dy="3.0" font-size="8.8" font-weight="bold" text-anchor="end" textLength="13.18" lengthAdjust="spacingAndGlyphs" transform="rotate(-90 231.05 313.80)">800</text>
<text x="242.90" y="313.80" dy="3.0" font-size="8.8" font-weight="bold" text-anchor="end" textLength="17.57" lengthAdjust="spacingAndGlyphs" transform="rotate(-90 242.90 313.80)">1600</text>
<clipPath id="clip_WL1R"><rect x="384.3" y="262.3" width="60.6" height="44.30000000000001"/></clipPath>
<path d="M384.98 262.3V306.6M387.94 262.3V306.6M390.90 262.3V306.6M393.87 262.3V306.6M396.83 262.3V306.6M399.79 262.3V306.6M402.75 262.3V306.6M405.71 262.3V306.6M408.68 262.3V306.6M411.64 262.3V306.6M417.56 262.3V306.6M420.52 262.3V306.6M423.49 262.3V306.6M426.45 262.3V306.6M429.41 262.3V306.6M432.37 262.3V306.6M435.33 262.3V306.6M438.30 262.3V306.6M441.26 262.3V306.6M444.22 262.3V306.6" stroke="#e6e9ea" stroke-width="0.9" fill="none"/>
<line x1="414.60" y1="262.3" x2="414.60" y2="306.6" stroke="#8c8c8c" stroke-width="0.9"/>
<line x1="384.3" y1="284.3" x2="444.90000000000003" y2="284.3" stroke="#000" stroke-width="2.2"/>
<g clip-path="url(#clip_WL1R)" fill="none" stroke-width="2.4" stroke-linejoin="round">
<path d="M385.4 277.6 L395.8 277.6 L409.5 278.2 L416.4 278.6 L423.3 280.0 L430.2 279.5 L437.1 278.6 L442.6 279.0" stroke="#ff0000"/>
<path d="M385.4 282.7 L390.3 284.1 L395.8 284.8 L409.5 285.0 L423.3 284.8 L442.6 284.5" stroke="#0000ff"/>
<path d="M385.4 287.5 L392.3 287.5 L402.0 288.2 L408.1 289.2 L417.1 289.2 L424.0 288.2 L433.6 287.5 L442.6 287.8" stroke="#ff0000" stroke-dasharray="4.9 11.16" stroke-dashoffset="-1.3" stroke-linecap="round"/>
<path d="M385.4 294.1 L392.3 293.7 L402.0 293.0 L408.1 293.0 L417.1 291.9 L424.0 292.8 L433.6 292.8 L442.6 293.7" stroke="#0000ff" stroke-dasharray="4.9 11.16" stroke-dashoffset="-1.3" stroke-linecap="round"/>
</g>
<rect x="384.3" y="262.3" width="60.6" height="44.30" fill="none" stroke="#000" stroke-width="1.3"/>
<path d="M380.80 263.5H384.3M380.80 273.9H384.3M380.80 284.3H384.3M380.80 294.7H384.3M380.80 305.1H384.3" stroke="#000" stroke-width="0.8"/>
<text x="376.10" y="263.50" dy="0" font-size="8.8" font-weight="bold" text-anchor="middle" textLength="10.98" lengthAdjust="spacingAndGlyphs" transform="rotate(-90 376.10 263.50)">1.2</text>
<text x="376.10" y="284.30" dy="0" font-size="8.8" font-weight="bold" text-anchor="middle" textLength="10.98" lengthAdjust="spacingAndGlyphs" transform="rotate(-90 376.10 284.30)">1.0</text>
<text x="376.10" y="305.10" dy="0" font-size="8.8" font-weight="bold" text-anchor="middle" textLength="10.98" lengthAdjust="spacingAndGlyphs" transform="rotate(-90 376.10 305.10)">0.8</text>
<path d="M390.90 306.6V310.1M402.75 306.6V310.1M414.60 306.6V310.1M426.45 306.6V310.1M438.30 306.6V310.1" stroke="#000" stroke-width="0.8"/>
<text x="390.90" y="313.80" dy="3.0" font-size="8.8" font-weight="bold" text-anchor="end" textLength="22.19" lengthAdjust="spacingAndGlyphs" transform="rotate(-90 390.90 313.80)">−1600</text>
<text x="402.75" y="313.80" dy="3.0" font-size="8.8" font-weight="bold" text-anchor="end" textLength="17.79" lengthAdjust="spacingAndGlyphs" transform="rotate(-90 402.75 313.80)">−800</text>
<text x="414.60" y="313.80" dy="3.0" font-size="8.8" font-weight="bold" text-anchor="end" textLength="4.39" lengthAdjust="spacingAndGlyphs" transform="rotate(-90 414.60 313.80)">0</text>
<text x="426.45" y="313.80" dy="3.0" font-size="8.8" font-weight="bold" text-anchor="end" textLength="13.18" lengthAdjust="spacingAndGlyphs" transform="rotate(-90 426.45 313.80)">800</text>
<text x="438.30" y="313.80" dy="3.0" font-size="8.8" font-weight="bold" text-anchor="end" textLength="17.57" lengthAdjust="spacingAndGlyphs" transform="rotate(-90 438.30 313.80)">1600</text>
<clipPath id="clip_WL2R"><rect x="464.0" y="262.3" width="60.6" height="44.30000000000001"/></clipPath>
<path d="M464.68 262.3V306.6M467.64 262.3V306.6M470.60 262.3V306.6M473.57 262.3V306.6M476.53 262.3V306.6M479.49 262.3V306.6M482.45 262.3V306.6M485.41 262.3V306.6M488.38 262.3V306.6M491.34 262.3V306.6M497.26 262.3V306.6M500.22 262.3V306.6M503.19 262.3V306.6M506.15 262.3V306.6M509.11 262.3V306.6M512.07 262.3V306.6M515.03 262.3V306.6M518.00 262.3V306.6M520.96 262.3V306.6M523.92 262.3V306.6" stroke="#e6e9ea" stroke-width="0.9" fill="none"/>
<line x1="494.30" y1="262.3" x2="494.30" y2="306.6" stroke="#8c8c8c" stroke-width="0.9"/>
<line x1="464.0" y1="284.3" x2="524.6" y2="284.3" stroke="#000" stroke-width="2.2"/>
<g clip-path="url(#clip_WL2R)" fill="none" stroke-width="2.4" stroke-linejoin="round">
<path d="M465.4 280.4 L489.5 280.1 L497.1 280.6 L503.3 280.9 L512.9 280.6 L522.6 281.3" stroke="#ff0000" stroke-dasharray="4.9 11.16" stroke-dashoffset="-1.3" stroke-linecap="round"/>
<path d="M465.4 280.0 L475.8 280.0 L488.1 279.3 L493.7 277.9 L500.5 276.5 L503.3 277.2 L508.8 276.8 L514.3 277.6 L522.6 277.2" stroke="#ff0000"/>
<path d="M465.4 284.5 L472.3 285.5 L482.0 285.5 L488.1 286.8 L497.1 286.4 L504.0 286.1 L513.6 287.3 L522.6 287.3" stroke="#0000ff" stroke-dasharray="4.9 11.16" stroke-dashoffset="-1.3" stroke-linecap="round"/>
<path d="M465.4 294.1 L470.3 292.8 L475.8 292.8 L482.6 292.3 L489.5 293.0 L496.4 292.3 L503.3 291.9 L508.8 292.8 L514.3 291.7 L522.6 291.4" stroke="#0000ff"/>
</g>
<rect x="464.0" y="262.3" width="60.6" height="44.30" fill="none" stroke="#000" stroke-width="1.3"/>
<path d="M460.50 263.5H464.0M460.50 273.9H464.0M460.50 284.3H464.0M460.50 294.7H464.0M460.50 305.1H464.0" stroke="#000" stroke-width="0.8"/>
<text x="455.80" y="263.50" dy="0" font-size="8.8" font-weight="bold" text-anchor="middle" textLength="10.98" lengthAdjust="spacingAndGlyphs" transform="rotate(-90 455.80 263.50)">1.2</text>
<text x="455.80" y="284.30" dy="0" font-size="8.8" font-weight="bold" text-anchor="middle" textLength="10.98" lengthAdjust="spacingAndGlyphs" transform="rotate(-90 455.80 284.30)">1.0</text>
<text x="455.80" y="305.10" dy="0" font-size="8.8" font-weight="bold" text-anchor="middle" textLength="10.98" lengthAdjust="spacingAndGlyphs" transform="rotate(-90 455.80 305.10)">0.8</text>
<path d="M470.60 306.6V310.1M482.45 306.6V310.1M494.30 306.6V310.1M506.15 306.6V310.1M518.00 306.6V310.1" stroke="#000" stroke-width="0.8"/>
<text x="470.60" y="313.80" dy="3.0" font-size="8.8" font-weight="bold" text-anchor="end" textLength="22.19" lengthAdjust="spacingAndGlyphs" transform="rotate(-90 470.60 313.80)">−1600</text>
<text x="482.45" y="313.80" dy="3.0" font-size="8.8" font-weight="bold" text-anchor="end" textLength="17.79" lengthAdjust="spacingAndGlyphs" transform="rotate(-90 482.45 313.80)">−800</text>
<text x="494.30" y="313.80" dy="3.0" font-size="8.8" font-weight="bold" text-anchor="end" textLength="4.39" lengthAdjust="spacingAndGlyphs" transform="rotate(-90 494.30 313.80)">0</text>
<text x="506.15" y="313.80" dy="3.0" font-size="8.8" font-weight="bold" text-anchor="end" textLength="13.18" lengthAdjust="spacingAndGlyphs" transform="rotate(-90 506.15 313.80)">800</text>
<text x="518.00" y="313.80" dy="3.0" font-size="8.8" font-weight="bold" text-anchor="end" textLength="17.57" lengthAdjust="spacingAndGlyphs" transform="rotate(-90 518.00 313.80)">1600</text>
<clipPath id="clip_WL3R"><rect x="543.7" y="262.3" width="60.6" height="44.30000000000001"/></clipPath>
<path d="M544.38 262.3V306.6M547.34 262.3V306.6M550.30 262.3V306.6M553.27 262.3V306.6M556.23 262.3V306.6M559.19 262.3V306.6M562.15 262.3V306.6M565.11 262.3V306.6M568.08 262.3V306.6M571.04 262.3V306.6M576.96 262.3V306.6M579.92 262.3V306.6M582.89 262.3V306.6M585.85 262.3V306.6M588.81 262.3V306.6M591.77 262.3V306.6M594.73 262.3V306.6M597.70 262.3V306.6M600.66 262.3V306.6M603.62 262.3V306.6" stroke="#e6e9ea" stroke-width="0.9" fill="none"/>
<line x1="574.00" y1="262.3" x2="574.00" y2="306.6" stroke="#8c8c8c" stroke-width="0.9"/>
<line x1="543.7" y1="284.3" x2="604.3000000000001" y2="284.3" stroke="#000" stroke-width="2.2"/>
<g clip-path="url(#clip_WL3R)" fill="none" stroke-width="2.4" stroke-linejoin="round">
<path d="M545.4 272.7 L555.8 272.1 L569.5 272.7 L576.4 273.5 L583.3 272.1 L590.2 272.4 L602.6 273.1" stroke="#ff0000"/>
<path d="M545.4 280.9 L552.3 281.7 L562.0 281.7 L568.1 282.0 L577.1 282.0 L584.0 282.3 L593.6 281.7 L602.6 282.0" stroke="#ff0000" stroke-dasharray="4.9 11.16" stroke-dashoffset="-1.3" stroke-linecap="round"/>
<path d="M545.4 279.3 L555.8 280.4 L569.5 280.9 L583.3 280.6 L590.2 280.9 L597.1 282.0 L602.6 282.7" stroke="#0000ff"/>
<path d="M545.4 278.6 L552.3 278.6 L561.3 279.0 L568.1 278.6 L577.1 279.0 L584.0 278.6 L592.9 277.6 L599.8 275.8 L602.6 275.4" stroke="#0000ff" stroke-dasharray="4.9 11.16" stroke-dashoffset="-1.3" stroke-linecap="round"/>
</g>
<rect x="543.7" y="262.3" width="60.6" height="44.30" fill="none" stroke="#000" stroke-width="1.3"/>
<path d="M540.20 263.5H543.7M540.20 273.9H543.7M540.20 284.3H543.7M540.20 294.7H543.7M540.20 305.1H543.7" stroke="#000" stroke-width="0.8"/>
<text x="535.50" y="263.50" dy="0" font-size="8.8" font-weight="bold" text-anchor="middle" textLength="10.98" lengthAdjust="spacingAndGlyphs" transform="rotate(-90 535.50 263.50)">1.2</text>
<text x="535.50" y="284.30" dy="0" font-size="8.8" font-weight="bold" text-anchor="middle" textLength="10.98" lengthAdjust="spacingAndGlyphs" transform="rotate(-90 535.50 284.30)">1.0</text>
<text x="535.50" y="305.10" dy="0" font-size="8.8" font-weight="bold" text-anchor="middle" textLength="10.98" lengthAdjust="spacingAndGlyphs" transform="rotate(-90 535.50 305.10)">0.8</text>
<path d="M550.30 306.6V310.1M562.15 306.6V310.1M574.00 306.6V310.1M585.85 306.6V310.1M597.70 306.6V310.1" stroke="#000" stroke-width="0.8"/>
<text x="550.30" y="313.80" dy="3.0" font-size="8.8" font-weight="bold" text-anchor="end" textLength="22.19" lengthAdjust="spacingAndGlyphs" transform="rotate(-90 550.30 313.80)">−1600</text>
<text x="562.15" y="313.80" dy="3.0" font-size="8.8" font-weight="bold" text-anchor="end" textLength="17.79" lengthAdjust="spacingAndGlyphs" transform="rotate(-90 562.15 313.80)">−800</text>
<text x="574.00" y="313.80" dy="3.0" font-size="8.8" font-weight="bold" text-anchor="end" textLength="4.39" lengthAdjust="spacingAndGlyphs" transform="rotate(-90 574.00 313.80)">0</text>
<text x="585.85" y="313.80" dy="3.0" font-size="8.8" font-weight="bold" text-anchor="end" textLength="13.18" lengthAdjust="spacingAndGlyphs" transform="rotate(-90 585.85 313.80)">800</text>
<text x="597.70" y="313.80" dy="3.0" font-size="8.8" font-weight="bold" text-anchor="end" textLength="17.57" lengthAdjust="spacingAndGlyphs" transform="rotate(-90 597.70 313.80)">1600</text>
<clipPath id="clip_BLeR"><rect x="268.6" y="262.3" width="60.6" height="44.30000000000001"/></clipPath>
<path d="M269.28 262.3V306.6M272.24 262.3V306.6M275.20 262.3V306.6M278.17 262.3V306.6M281.13 262.3V306.6M284.09 262.3V306.6M287.05 262.3V306.6M290.01 262.3V306.6M292.98 262.3V306.6M295.94 262.3V306.6M301.86 262.3V306.6M304.82 262.3V306.6M307.79 262.3V306.6M310.75 262.3V306.6M313.71 262.3V306.6M316.67 262.3V306.6M319.63 262.3V306.6M322.60 262.3V306.6M325.56 262.3V306.6M328.52 262.3V306.6" stroke="#e6e9ea" stroke-width="0.9" fill="none"/>
<line x1="298.90" y1="262.3" x2="298.90" y2="306.6" stroke="#8c8c8c" stroke-width="0.9"/>
<line x1="268.6" y1="277.4" x2="329.20000000000005" y2="277.4" stroke="#000" stroke-width="2.2"/>
<g clip-path="url(#clip_BLeR)" fill="none" stroke-width="2.4" stroke-linejoin="round">
<path d="M269.6 277.1 L286.0 277.1 L301.5 277.1 L317.8 276.2 L327.6 276.6" stroke="#0000ff" stroke-dasharray="4.9 11.16" stroke-dashoffset="-1.3" stroke-linecap="round"/>
<path d="M269.6 283.1 L286.0 283.1 L302.3 282.5 L318.6 282.0 L327.6 282.0" stroke="#ff0000" stroke-dasharray="4.9 11.16" stroke-dashoffset="-1.3" stroke-linecap="round"/>
<path d="M269.6 284.4 L282.7 285.7 L299.0 285.7 L315.4 284.1 L327.6 284.7" stroke="#ff0000"/>
<path d="M269.6 292.9 L279.4 291.3 L290.9 292.3 L302.3 291.3 L313.7 289.3 L320.3 289.7 L327.6 289.0" stroke="#0000ff"/>
</g>
<rect x="268.6" y="262.3" width="60.6" height="44.30" fill="none" stroke="#000" stroke-width="1.3"/>
<path d="M265.10 263.6H268.6M265.10 277.4H268.6M265.10 291.2H268.6M265.10 305.0H268.6" stroke="#000" stroke-width="0.8"/>
<text x="260.40" y="277.40" dy="0" font-size="8.8" font-weight="bold" text-anchor="middle" textLength="15.37" lengthAdjust="spacingAndGlyphs" transform="rotate(-90 260.40 277.40)">1.00</text>
<text x="260.40" y="305.00" dy="0" font-size="8.8" font-weight="bold" text-anchor="middle" textLength="15.37" lengthAdjust="spacingAndGlyphs" transform="rotate(-90 260.40 305.00)">0.90</text>
<path d="M275.20 306.6V310.1M287.05 306.6V310.1M298.90 306.6V310.1M310.75 306.6V310.1M322.60 306.6V310.1" stroke="#000" stroke-width="0.8"/>
<text x="275.20" y="313.80" dy="3.0" font-size="8.8" font-weight="bold" text-anchor="end" textLength="22.19" lengthAdjust="spacingAndGlyphs" transform="rotate(-90 275.20 313.80)">−1600</text>
<text x="287.05" y="313.80" dy="3.0" font-size="8.8" font-weight="bold" text-anchor="end" textLength="17.79" lengthAdjust="spacingAndGlyphs" transform="rotate(-90 287.05 313.80)">−800</text>
<text x="298.90" y="313.80" dy="3.0" font-size="8.8" font-weight="bold" text-anchor="end" textLength="4.39" lengthAdjust="spacingAndGlyphs" transform="rotate(-90 298.90 313.80)">0</text>
<text x="310.75" y="313.80" dy="3.0" font-size="8.8" font-weight="bold" text-anchor="end" textLength="13.18" lengthAdjust="spacingAndGlyphs" transform="rotate(-90 310.75 313.80)">800</text>
<text x="322.60" y="313.80" dy="3.0" font-size="8.8" font-weight="bold" text-anchor="end" textLength="17.57" lengthAdjust="spacingAndGlyphs" transform="rotate(-90 322.60 313.80)">1600</text>
<clipPath id="clip_WLeR"><rect x="623.4" y="262.3" width="60.6" height="44.30000000000001"/></clipPath>
<path d="M624.08 262.3V306.6M627.04 262.3V306.6M630.00 262.3V306.6M632.97 262.3V306.6M635.93 262.3V306.6M638.89 262.3V306.6M641.85 262.3V306.6M644.81 262.3V306.6M647.78 262.3V306.6M650.74 262.3V306.6M656.66 262.3V306.6M659.62 262.3V306.6M662.59 262.3V306.6M665.55 262.3V306.6M668.51 262.3V306.6M671.47 262.3V306.6M674.43 262.3V306.6M677.40 262.3V306.6M680.36 262.3V306.6M683.32 262.3V306.6" stroke="#e6e9ea" stroke-width="0.9" fill="none"/>
<line x1="653.70" y1="262.3" x2="653.70" y2="306.6" stroke="#8c8c8c" stroke-width="0.9"/>
<line x1="623.4" y1="284.2" x2="684.0" y2="284.2" stroke="#000" stroke-width="2.2"/>
<g clip-path="url(#clip_WLeR)" fill="none" stroke-width="2.4" stroke-linejoin="round">
<path d="M625.2 281.9 L633.4 281.1 L644.8 281.5 L653.0 279.8 L661.2 279.5 L669.3 279.5 L675.9 278.7 L682.4 279.8" stroke="#0000ff"/>
<path d="M625.2 290.1 L631.8 289.6 L641.6 289.3 L648.1 288.0 L657.9 286.8 L664.4 285.7 L672.6 285.2 L682.4 285.7" stroke="#0000ff" stroke-dasharray="4.9 11.16" stroke-dashoffset="-1.3" stroke-linecap="round"/>
<path d="M625.2 291.7 L636.7 291.7 L644.8 290.9 L653.0 290.1 L661.2 290.1 L669.3 289.3 L675.9 290.1 L682.4 290.6" stroke="#ff0000"/>
<path d="M625.2 296.2 L632.6 296.2 L641.6 296.6 L648.1 295.8 L657.9 295.0 L664.4 294.5 L673.4 294.5 L682.4 294.2" stroke="#ff0000" stroke-dasharray="4.9 11.16" stroke-dashoffset="-1.3" stroke-linecap="round"/>
</g>
<rect x="623.4" y="262.3" width="60.6" height="44.30" fill="none" stroke="#000" stroke-width="1.3"/>
<path d="M619.90 267.8H623.4M619.90 276.0H623.4M619.90 284.2H623.4M619.90 292.4H623.4M619.90 300.6H623.4" stroke="#000" stroke-width="0.8"/>
<text x="615.20" y="276.00" dy="0" font-size="8.8" font-weight="bold" text-anchor="middle" textLength="15.37" lengthAdjust="spacingAndGlyphs" transform="rotate(-90 615.20 276.00)">1.02</text>
<text x="615.20" y="300.60" dy="0" font-size="8.8" font-weight="bold" text-anchor="middle" textLength="15.37" lengthAdjust="spacingAndGlyphs" transform="rotate(-90 615.20 300.60)">0.96</text>
<path d="M630.00 306.6V310.1M641.85 306.6V310.1M653.70 306.6V310.1M665.55 306.6V310.1M677.40 306.6V310.1" stroke="#000" stroke-width="0.8"/>
<text x="630.00" y="313.80" dy="3.0" font-size="8.8" font-weight="bold" text-anchor="end" textLength="22.19" lengthAdjust="spacingAndGlyphs" transform="rotate(-90 630.00 313.80)">−1600</text>
<text x="641.85" y="313.80" dy="3.0" font-size="8.8" font-weight="bold" text-anchor="end" textLength="17.79" lengthAdjust="spacingAndGlyphs" transform="rotate(-90 641.85 313.80)">−800</text>
<text x="653.70" y="313.80" dy="3.0" font-size="8.8" font-weight="bold" text-anchor="end" textLength="4.39" lengthAdjust="spacingAndGlyphs" transform="rotate(-90 653.70 313.80)">0</text>
<text x="665.55" y="313.80" dy="3.0" font-size="8.8" font-weight="bold" text-anchor="end" textLength="13.18" lengthAdjust="spacingAndGlyphs" transform="rotate(-90 665.55 313.80)">800</text>
<text x="677.40" y="313.80" dy="3.0" font-size="8.8" font-weight="bold" text-anchor="end" textLength="17.57" lengthAdjust="spacingAndGlyphs" transform="rotate(-90 677.40 313.80)">1600</text>
</svg></body></html>
